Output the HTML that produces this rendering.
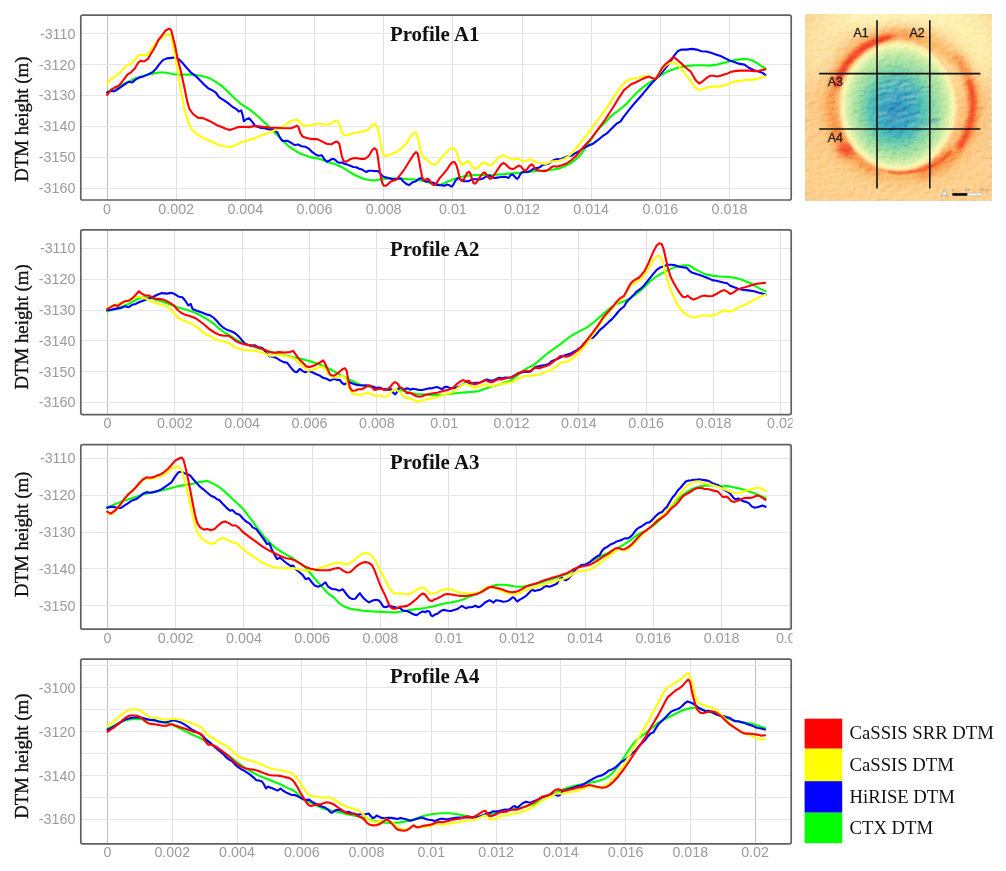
<!DOCTYPE html>
<html><head><meta charset="utf-8"><title>DTM profiles</title>
<style>html,body{margin:0;padding:0;background:#fff;}body{width:1006px;height:871px;overflow:hidden;font-family:"Liberation Sans",sans-serif;}svg{display:block;}</style></head>
<body>
<svg width="1006" height="871" viewBox="0 0 1006 871">
<defs><clipPath id="xc"><rect x="0" y="0" width="792.6" height="871"/></clipPath></defs>
<rect width="1006" height="871" fill="#ffffff"/>
<g opacity="0.999">
<g>
<clipPath id="c0"><rect x="80.8" y="15.1" width="710.4" height="184.9"/></clipPath>
<g stroke-width="1"><line x1="107.5" y1="15.1" x2="107.5" y2="200.0" stroke="#c2c2c2"/><line x1="176.5" y1="15.1" x2="176.5" y2="200.0" stroke="#e0e0e0"/><line x1="245.5" y1="15.1" x2="245.5" y2="200.0" stroke="#e0e0e0"/><line x1="314.5" y1="15.1" x2="314.5" y2="200.0" stroke="#e0e0e0"/><line x1="383.5" y1="15.1" x2="383.5" y2="200.0" stroke="#e0e0e0"/><line x1="452.5" y1="15.1" x2="452.5" y2="200.0" stroke="#e0e0e0"/><line x1="522.5" y1="15.1" x2="522.5" y2="200.0" stroke="#e0e0e0"/><line x1="591.5" y1="15.1" x2="591.5" y2="200.0" stroke="#e0e0e0"/><line x1="660.5" y1="15.1" x2="660.5" y2="200.0" stroke="#e0e0e0"/><line x1="729.5" y1="15.1" x2="729.5" y2="200.0" stroke="#e0e0e0"/><line x1="80.8" y1="33.5" x2="791.2" y2="33.5" stroke="#e6e6e6"/><line x1="80.8" y1="64.5" x2="791.2" y2="64.5" stroke="#e6e6e6"/><line x1="80.8" y1="95.5" x2="791.2" y2="95.5" stroke="#e6e6e6"/><line x1="80.8" y1="126.5" x2="791.2" y2="126.5" stroke="#e6e6e6"/><line x1="80.8" y1="157.5" x2="791.2" y2="157.5" stroke="#e6e6e6"/><line x1="80.8" y1="188.5" x2="791.2" y2="188.5" stroke="#e6e6e6"/></g>
<g clip-path="url(#c0)" fill="none" stroke-width="2.1" stroke-linejoin="round" stroke-linecap="round">
<path d="M107.2 92.5 L111.9 89.4 L117.9 86.6 L123.9 83.7 L129.8 81.3 L135.8 78.2 L141.7 76.6 L147.7 74.6 L153.7 73.4 L159.6 72.5 L164.4 72.5 L169.2 73.2 L174.0 74.2 L178.7 74.6 L185.9 74.6 L193.0 74.6 L200.2 75.8 L206.2 77.0 L210.9 78.9 L215.7 81.8 L220.5 84.9 L225.2 89.0 L230.0 93.7 L234.8 98.5 L239.6 102.8 L244.3 106.1 L249.1 109.2 L253.9 112.8 L258.6 117.1 L263.4 121.6 L268.2 125.9 L273.0 130.7 L277.7 135.5 L282.5 140.2 L287.3 145.0 L292.0 148.6 L296.8 151.7 L301.6 154.1 L306.4 155.8 L311.1 157.4 L315.9 158.1 L320.7 159.3 L325.4 161.0 L330.0 162.8 L331.2 163.1 L332.4 163.4 L333.6 163.7 L334.8 164.1 L336.0 164.5 L337.2 165.0 L338.4 165.5 L340.7 166.7 L344.3 168.7 L347.9 170.8 L351.5 173.0 L355.0 175.0 L358.6 176.8 L362.2 178.3 L365.8 179.4 L369.4 180.0 L372.9 180.4 L376.5 180.1 L380.1 179.5 L383.7 178.9 L387.3 178.6 L390.8 178.6 L394.4 178.6 L399.2 178.6 L404.0 178.9 L408.7 179.2 L413.5 179.4 L417.1 179.8 L420.7 180.4 L424.2 181.2 L427.8 182.2 L431.4 183.4 L435.0 184.2 L438.5 184.9 L440.0 184.8 L441.2 184.4 L442.4 184.0 L443.6 183.4 L444.8 182.9 L446.0 182.3 L447.2 181.8 L448.4 181.3 L449.6 180.8 L450.7 180.4 L454.3 178.9 L457.9 177.8 L461.5 176.8 L465.0 176.2 L468.6 175.6 L472.2 175.2 L475.8 175.0 L480.6 175.0 L485.3 175.0 L490.1 175.0 L494.9 174.8 L499.6 174.4 L504.4 174.1 L509.2 173.6 L514.0 173.2 L518.7 172.9 L523.5 172.4 L528.3 172.0 L533.0 171.4 L537.8 170.8 L542.6 170.6 L547.4 170.2 L550.0 169.9 L551.2 169.8 L552.4 169.7 L553.6 169.5 L554.8 169.3 L556.0 169.1 L557.2 168.9 L558.4 168.6 L559.6 168.4 L564.3 166.5 L569.1 164.1 L573.9 161.0 L578.6 156.9 L583.4 151.0 L588.2 143.8 L591.7 138.6 L595.3 133.1 L600.1 127.1 L604.9 122.8 L609.6 117.6 L614.4 113.3 L619.2 110.0 L624.0 106.1 L628.7 101.4 L633.5 96.1 L638.3 91.3 L643.0 87.3 L647.8 83.7 L652.6 80.6 L657.4 77.5 L662.1 74.6 L666.9 71.8 L671.7 69.9 L676.4 68.2 L681.2 67.0 L686.0 66.1 L690.8 65.6 L695.5 65.3 L702.7 65.3 L709.8 65.6 L717.0 64.6 L724.2 62.7 L731.3 60.8 L737.3 59.6 L742.0 59.1 L746.8 59.1 L751.6 60.3 L756.4 62.7 L761.1 65.8 L765.4 68.7" stroke="#00ff00"/>
<path d="M107.2 92.5 L110.7 90.9 L114.3 91.3 L117.9 89.0 L121.5 86.6 L125.0 84.2 L128.6 81.8 L132.2 82.5 L135.8 79.4 L139.4 77.5 L142.9 76.6 L147.7 74.6 L152.5 72.3 L156.1 68.7 L159.6 63.9 L163.2 59.9 L166.8 58.4 L171.6 57.9 L175.1 57.5 L178.7 59.1 L182.3 62.7 L185.9 67.0 L190.7 72.3 L195.4 75.8 L200.2 80.6 L205.0 85.4 L208.5 88.5 L212.1 90.1 L215.7 92.5 L219.3 97.3 L224.1 100.4 L228.8 103.7 L232.4 106.8 L236.0 108.8 L238.8 111.6 L241.2 110.4 L242.7 115.2 L243.9 121.2 L246.0 119.5 L249.1 118.3 L252.7 122.4 L255.1 125.9 L259.8 127.6 L264.6 128.3 L269.4 129.5 L274.2 129.5 L277.7 133.1 L280.1 137.9 L282.5 141.0 L287.3 140.7 L290.9 142.6 L294.4 145.0 L298.0 144.5 L301.6 146.2 L305.2 146.7 L308.7 148.6 L312.3 152.2 L315.9 154.6 L318.3 155.8 L321.9 155.3 L324.3 159.3 L327.1 161.7 L330.0 160.2 L331.2 159.5 L332.4 158.9 L333.6 159.0 L334.8 159.6 L336.0 160.5 L337.2 161.9 L338.4 162.4 L339.5 162.7 L341.9 162.5 L344.3 163.7 L347.3 164.6 L350.3 165.8 L353.3 167.0 L356.2 167.3 L359.2 168.7 L362.2 169.6 L364.6 171.1 L366.4 172.0 L368.8 170.8 L371.7 170.8 L375.3 171.1 L378.3 171.1 L380.1 173.2 L382.5 176.2 L385.5 177.4 L388.4 178.0 L390.8 178.6 L393.8 179.2 L396.8 178.9 L399.2 178.2 L401.0 178.6 L402.8 181.0 L405.1 182.8 L407.5 184.6 L409.3 185.1 L411.1 183.4 L412.9 182.2 L415.3 181.6 L417.7 179.8 L420.1 178.2 L421.8 178.6 L423.6 180.4 L426.0 181.6 L428.4 181.3 L430.8 182.2 L433.8 182.8 L436.2 184.6 L439.1 185.1 L440.0 185.2 L441.2 185.3 L442.4 185.4 L443.6 185.6 L444.8 185.6 L446.0 185.0 L447.2 184.6 L448.4 184.9 L449.6 185.4 L450.7 186.3 L451.9 186.6 L453.4 184.6 L454.9 181.6 L456.7 179.2 L458.5 178.2 L460.3 179.2 L462.1 180.6 L463.9 181.3 L466.2 181.3 L468.6 181.1 L471.0 179.8 L473.4 179.2 L475.8 179.2 L478.2 179.4 L480.6 179.2 L482.9 178.6 L485.3 177.0 L487.7 175.6 L490.1 175.8 L492.5 177.4 L494.9 178.0 L497.3 177.6 L499.6 177.2 L502.0 177.0 L505.0 176.8 L507.4 177.4 L508.6 178.0 L510.4 175.4 L512.2 174.4 L514.0 175.8 L515.7 177.8 L517.3 178.9 L518.7 177.4 L520.2 174.4 L521.7 172.6 L523.5 171.8 L525.9 172.0 L528.3 171.8 L530.7 170.6 L533.0 169.0 L535.4 168.2 L537.8 167.9 L540.2 167.0 L542.0 165.5 L543.8 164.6 L546.2 164.3 L548.5 163.7 L550.0 162.6 L551.2 161.7 L552.4 160.9 L553.6 160.2 L554.8 159.8 L556.0 159.4 L557.2 159.1 L558.4 159.2 L559.6 159.3 L560.7 159.3 L564.3 157.7 L567.9 156.2 L571.5 155.8 L575.0 153.4 L578.6 151.5 L583.4 148.1 L588.2 145.7 L592.9 143.8 L597.7 140.2 L602.5 136.2 L607.3 133.1 L612.0 128.3 L616.8 123.5 L620.4 121.6 L624.0 116.4 L628.7 110.4 L633.5 104.5 L638.3 99.0 L643.0 93.7 L647.8 87.8 L652.6 82.3 L657.4 77.5 L662.1 72.3 L666.9 66.3 L670.5 61.5 L674.1 55.6 L677.6 51.3 L681.2 49.6 L686.0 49.6 L691.9 48.9 L696.7 49.6 L701.5 51.3 L706.3 51.5 L711.0 52.7 L715.8 54.4 L720.6 56.0 L725.3 58.4 L730.1 60.8 L734.9 62.2 L739.7 63.9 L744.4 64.6 L749.2 68.0 L754.0 70.3 L758.7 71.5 L762.3 72.7 L765.4 75.1" stroke="#0000ff"/>
<path d="M107.2 83.5 L110.7 79.4 L114.3 77.0 L119.1 73.4 L123.9 68.7 L127.4 65.1 L131.0 63.9 L134.6 60.3 L138.2 55.6 L141.7 54.4 L145.3 55.6 L148.9 53.2 L152.5 47.2 L157.3 41.2 L162.0 37.7 L166.8 34.6 L169.2 34.1 L171.1 36.5 L174.0 50.8 L177.5 69.9 L181.1 91.3 L184.7 110.4 L188.3 122.4 L191.8 129.5 L195.4 133.1 L200.2 136.2 L205.0 138.6 L209.7 140.7 L214.5 143.1 L219.3 145.0 L224.1 146.2 L230.0 146.9 L234.8 145.5 L240.8 142.6 L247.9 140.2 L255.1 137.9 L262.2 135.0 L269.4 132.4 L276.5 129.5 L281.3 127.1 L286.1 124.3 L290.9 121.2 L295.6 119.5 L299.2 121.2 L302.8 125.2 L307.6 125.9 L312.3 124.7 L317.1 123.5 L321.9 124.0 L326.6 124.7 L330.0 123.9 L331.2 123.6 L332.4 122.6 L333.6 121.7 L334.8 120.9 L336.0 120.8 L337.2 121.3 L338.4 122.3 L340.1 126.7 L341.9 132.1 L343.7 134.8 L346.1 135.6 L349.1 134.5 L352.7 133.3 L356.2 132.7 L361.0 131.8 L365.8 130.9 L368.8 129.1 L371.2 126.1 L373.5 124.3 L375.3 124.1 L377.1 126.7 L378.9 133.9 L380.7 143.4 L382.5 151.7 L384.3 155.7 L386.7 155.9 L389.6 154.7 L393.2 153.5 L396.2 152.3 L399.2 150.0 L402.8 147.0 L406.3 143.4 L409.3 138.6 L412.3 134.5 L414.7 132.4 L416.5 133.9 L418.3 139.8 L420.1 148.2 L421.8 154.7 L423.6 157.7 L426.0 158.9 L428.4 161.1 L430.8 163.4 L433.2 164.6 L435.6 164.3 L438.0 161.9 L440.0 159.4 L441.2 158.1 L442.4 156.7 L443.6 155.4 L444.8 154.1 L446.0 152.8 L447.2 151.6 L448.4 150.5 L449.6 149.5 L451.3 148.2 L453.7 148.2 L456.1 151.2 L457.9 155.9 L459.7 161.3 L461.5 164.3 L463.3 164.6 L465.6 162.5 L468.0 161.3 L469.8 162.5 L471.6 165.5 L473.4 167.9 L475.2 168.7 L477.0 168.2 L479.4 166.1 L481.7 163.7 L484.1 162.5 L486.5 163.4 L488.9 165.1 L490.7 165.5 L493.1 163.7 L495.5 160.7 L497.9 158.3 L500.2 156.3 L502.6 155.3 L505.0 155.9 L508.0 157.5 L511.0 158.9 L513.4 159.5 L515.7 158.9 L518.1 158.7 L520.5 159.9 L522.9 161.1 L525.3 161.3 L527.7 160.1 L530.1 159.3 L532.4 160.1 L534.8 161.9 L537.2 162.5 L540.2 162.7 L543.2 163.7 L545.6 163.9 L548.0 163.1 L550.0 162.1 L551.2 161.6 L552.4 161.4 L553.6 161.2 L554.8 161.2 L556.0 161.1 L557.2 161.0 L558.4 160.8 L559.6 160.5 L564.3 158.9 L569.1 155.8 L573.9 151.0 L578.6 145.0 L583.4 139.1 L588.2 133.1 L592.9 126.7 L597.7 120.0 L602.5 113.3 L607.3 106.8 L612.0 99.7 L616.8 92.5 L621.6 85.9 L626.3 81.3 L631.1 78.9 L635.9 78.2 L640.7 77.0 L645.4 76.3 L649.0 76.6 L652.6 78.2 L656.2 78.2 L659.3 73.4 L662.6 68.7 L666.2 65.1 L670.5 62.7 L674.1 62.2 L677.6 65.1 L681.2 68.7 L684.8 73.4 L688.4 78.2 L691.9 83.0 L695.5 87.8 L699.1 90.1 L703.9 88.5 L708.6 87.0 L713.4 86.6 L718.2 86.6 L723.0 85.6 L727.7 84.2 L732.5 82.3 L737.3 81.1 L742.0 80.6 L746.8 79.9 L751.6 79.9 L756.4 78.9 L761.1 77.7 L765.4 76.6" stroke="#ffff00"/>
<path d="M107.2 94.9 L110.7 90.1 L114.3 87.8 L119.1 85.4 L123.9 79.4 L127.4 74.6 L131.0 72.3 L134.6 68.7 L138.2 62.7 L140.6 60.8 L144.1 61.5 L147.7 59.1 L151.3 53.2 L154.9 47.2 L158.4 40.0 L162.0 35.3 L165.6 30.5 L169.2 28.6 L171.1 29.8 L172.8 36.5 L175.1 46.0 L177.5 57.9 L181.1 72.3 L184.7 89.0 L187.1 100.9 L189.5 109.2 L193.0 114.0 L197.8 117.6 L202.6 118.1 L207.4 120.0 L212.1 122.4 L216.9 125.2 L221.7 127.1 L226.4 129.0 L230.0 130.0 L233.6 128.8 L238.4 127.1 L243.1 126.7 L249.1 127.1 L255.1 125.9 L262.2 126.7 L269.4 127.6 L276.5 127.8 L283.7 128.3 L290.9 128.3 L294.4 127.1 L296.8 125.5 L298.5 127.1 L300.4 133.1 L302.8 136.7 L307.6 138.3 L312.3 139.1 L317.1 139.1 L321.9 141.4 L326.6 143.8 L330.0 144.2 L331.2 144.3 L332.4 143.7 L333.6 143.0 L334.8 142.1 L336.0 141.7 L337.2 141.5 L338.4 142.7 L339.3 144.0 L340.7 150.6 L341.9 156.5 L343.4 160.7 L345.5 161.9 L347.9 160.7 L350.9 158.9 L353.9 158.1 L357.4 158.3 L361.0 158.9 L364.6 158.9 L367.6 157.1 L370.0 154.1 L372.3 150.0 L374.7 148.2 L376.5 150.0 L377.7 155.9 L379.1 166.1 L380.7 176.2 L382.2 182.8 L383.9 185.7 L386.1 185.7 L388.4 183.7 L390.8 181.6 L393.8 180.6 L396.2 179.8 L398.6 176.8 L401.6 173.2 L404.6 169.0 L407.5 164.3 L410.5 159.5 L413.5 154.7 L415.9 152.1 L417.7 153.5 L419.2 161.3 L420.7 169.6 L422.1 176.8 L423.6 180.4 L425.4 179.8 L427.8 178.6 L429.6 180.4 L431.4 183.4 L433.8 185.1 L435.6 184.6 L437.4 181.6 L439.7 178.0 L440.0 177.7 L441.2 176.4 L442.4 175.1 L443.6 173.7 L444.8 172.2 L446.0 170.7 L447.2 169.1 L448.4 167.3 L449.6 165.4 L451.9 162.5 L454.3 161.9 L456.1 164.3 L457.7 169.6 L459.1 175.6 L460.5 179.8 L462.1 181.0 L463.9 179.2 L465.6 175.6 L467.4 172.6 L469.2 171.8 L470.8 174.4 L472.0 179.2 L473.4 182.8 L474.8 183.7 L476.4 182.5 L478.2 179.8 L480.6 176.2 L482.9 173.2 L484.7 172.4 L486.5 174.4 L488.3 177.4 L490.1 178.9 L491.9 178.0 L493.7 175.6 L496.1 172.0 L498.4 168.4 L500.8 164.9 L503.2 163.1 L505.0 163.7 L507.4 166.1 L509.8 168.2 L512.2 169.0 L514.6 168.4 L516.9 166.7 L519.3 165.5 L521.1 166.7 L522.9 169.0 L524.9 170.8 L526.8 169.6 L528.9 166.7 L530.7 164.6 L532.4 164.6 L534.0 167.0 L535.4 169.4 L537.8 170.2 L540.8 170.8 L543.8 171.1 L546.8 170.6 L549.1 169.0 L550.0 168.4 L551.2 167.4 L552.4 166.8 L553.6 166.3 L554.8 166.3 L556.0 166.5 L557.2 166.6 L558.4 166.3 L559.6 165.9 L561.9 165.3 L566.7 163.4 L571.5 160.0 L576.2 155.8 L581.0 149.8 L585.8 144.5 L590.6 139.1 L595.3 133.1 L600.1 126.7 L604.9 120.0 L609.6 112.8 L614.4 105.2 L619.2 97.3 L624.0 90.1 L627.5 87.3 L631.1 84.2 L635.9 82.3 L640.7 79.9 L645.4 77.7 L649.0 76.6 L652.6 78.2 L655.7 78.9 L658.5 74.6 L661.7 68.7 L665.0 64.6 L668.6 61.5 L671.7 58.4 L674.1 57.5 L676.4 59.1 L680.0 62.2 L683.6 65.6 L687.2 68.7 L690.8 71.8 L693.1 75.8 L696.0 80.6 L699.1 83.5 L702.7 81.3 L706.3 78.2 L709.8 75.8 L713.4 75.8 L717.0 76.6 L720.6 75.8 L724.2 74.6 L727.7 73.4 L731.3 71.8 L734.9 71.1 L739.7 70.6 L744.4 70.6 L749.2 70.6 L754.0 71.1 L757.6 71.1 L761.1 70.3 L765.4 69.4" stroke="#ff0000"/>
</g>
<rect x="80.8" y="15.1" width="710.4" height="184.9" rx="1.8" fill="none" stroke="#616161" stroke-width="1.7"/>
<g clip-path="url(#xc)" font-family="'Liberation Sans', sans-serif" font-size="14.3" fill="#9b9b9b"><text x="107.0" y="213.6" text-anchor="middle">0</text><text x="176.2" y="213.6" text-anchor="middle">0.002</text><text x="245.3" y="213.6" text-anchor="middle">0.004</text><text x="314.5" y="213.6" text-anchor="middle">0.006</text><text x="383.7" y="213.6" text-anchor="middle">0.008</text><text x="452.9" y="213.6" text-anchor="middle">0.01</text><text x="522.0" y="213.6" text-anchor="middle">0.012</text><text x="591.2" y="213.6" text-anchor="middle">0.014</text><text x="660.4" y="213.6" text-anchor="middle">0.016</text><text x="729.5" y="213.6" text-anchor="middle">0.018</text></g>
<g font-family="'Liberation Sans', sans-serif" font-size="14.3" fill="#9b9b9b"><text x="75.4" y="38.8" text-anchor="end">-3110</text><text x="75.4" y="69.6" text-anchor="end">-3120</text><text x="75.4" y="100.4" text-anchor="end">-3130</text><text x="75.4" y="131.3" text-anchor="end">-3140</text><text x="75.4" y="162.1" text-anchor="end">-3150</text><text x="75.4" y="192.9" text-anchor="end">-3160</text></g>
<text x="389.9" y="41.3" font-family="'Liberation Serif', serif" font-weight="bold" font-size="20.9" fill="#111">Profile A1</text>
<text transform="translate(27.7 119.2) rotate(-90)" text-anchor="middle" font-family="'Liberation Serif', serif" font-size="18.8" fill="#111" stroke="#111" stroke-width="0.35">DTM height (m)</text>
</g>
<g>
<clipPath id="c1"><rect x="80.8" y="229.9" width="710.4" height="184.7"/></clipPath>
<g stroke-width="1"><line x1="107.5" y1="229.9" x2="107.5" y2="414.6" stroke="#c2c2c2"/><line x1="174.5" y1="229.9" x2="174.5" y2="414.6" stroke="#e0e0e0"/><line x1="242.5" y1="229.9" x2="242.5" y2="414.6" stroke="#e0e0e0"/><line x1="309.5" y1="229.9" x2="309.5" y2="414.6" stroke="#e0e0e0"/><line x1="376.5" y1="229.9" x2="376.5" y2="414.6" stroke="#e0e0e0"/><line x1="444.5" y1="229.9" x2="444.5" y2="414.6" stroke="#e0e0e0"/><line x1="511.5" y1="229.9" x2="511.5" y2="414.6" stroke="#e0e0e0"/><line x1="578.5" y1="229.9" x2="578.5" y2="414.6" stroke="#e0e0e0"/><line x1="646.5" y1="229.9" x2="646.5" y2="414.6" stroke="#e0e0e0"/><line x1="713.5" y1="229.9" x2="713.5" y2="414.6" stroke="#e0e0e0"/><line x1="780.5" y1="229.9" x2="780.5" y2="414.6" stroke="#e0e0e0"/><line x1="80.8" y1="248.5" x2="791.2" y2="248.5" stroke="#e6e6e6"/><line x1="80.8" y1="279.5" x2="791.2" y2="279.5" stroke="#e6e6e6"/><line x1="80.8" y1="310.5" x2="791.2" y2="310.5" stroke="#e6e6e6"/><line x1="80.8" y1="340.5" x2="791.2" y2="340.5" stroke="#e6e6e6"/><line x1="80.8" y1="371.5" x2="791.2" y2="371.5" stroke="#e6e6e6"/><line x1="80.8" y1="402.5" x2="791.2" y2="402.5" stroke="#e6e6e6"/></g>
<g clip-path="url(#c1)" fill="none" stroke-width="2.1" stroke-linejoin="round" stroke-linecap="round">
<path d="M107.2 311.5 L114.3 309.1 L121.5 306.7 L128.6 303.9 L135.8 300.0 L141.7 297.2 L147.7 297.2 L153.7 298.9 L159.6 300.8 L165.6 302.7 L171.6 305.1 L177.5 307.2 L183.5 309.1 L189.5 310.8 L195.4 312.7 L201.4 315.8 L207.4 319.4 L213.3 323.4 L219.3 328.7 L225.2 333.0 L231.2 336.5 L237.2 340.1 L243.1 343.2 L250.3 345.6 L257.5 348.0 L264.6 350.1 L271.8 352.1 L278.9 354.0 L286.1 355.6 L293.2 357.3 L300.4 358.7 L307.6 360.4 L314.7 362.8 L321.9 365.2 L329.0 368.8 L330.0 369.3 L331.2 369.8 L332.4 370.4 L333.6 371.1 L334.8 371.7 L336.0 372.4 L337.2 373.1 L338.4 373.9 L339.6 374.5 L341.9 375.7 L345.9 377.6 L349.9 379.6 L353.9 381.7 L357.8 383.6 L361.8 385.2 L365.8 386.0 L369.8 386.8 L374.5 387.6 L379.3 388.4 L384.1 389.2 L388.8 389.5 L393.6 389.7 L398.4 390.0 L403.2 390.8 L407.9 391.9 L412.7 393.2 L417.5 394.0 L422.2 394.4 L427.0 394.8 L431.8 395.1 L436.6 395.1 L441.3 394.8 L446.1 394.3 L450.9 393.6 L455.6 393.2 L460.4 392.7 L465.2 392.4 L470.0 392.0 L474.7 391.6 L478.7 391.1 L480.0 390.6 L481.2 390.2 L482.4 389.8 L483.6 389.2 L484.8 388.8 L486.0 388.4 L487.2 388.0 L488.4 387.7 L489.6 387.3 L491.9 386.5 L495.9 385.4 L499.9 384.2 L503.9 382.7 L507.8 381.5 L511.8 379.9 L515.8 376.7 L519.8 373.5 L523.7 370.3 L527.7 367.9 L531.7 366.0 L535.7 363.5 L539.6 360.0 L543.6 356.5 L547.6 353.3 L551.6 350.4 L555.5 347.6 L559.5 344.9 L563.5 341.7 L567.5 338.5 L571.5 335.6 L575.4 333.3 L579.4 331.4 L583.4 329.4 L587.4 327.1 L591.3 324.2 L595.3 321.0 L599.3 317.4 L600.0 316.7 L601.2 315.7 L602.4 314.7 L603.6 313.6 L604.8 312.6 L606.0 311.6 L607.2 310.5 L608.4 309.5 L609.6 308.6 L610.8 307.6 L612.0 306.8 L613.2 306.0 L614.4 305.3 L615.6 304.6 L616.8 304.1 L618.0 303.6 L619.2 303.1 L620.4 302.6 L621.6 302.1 L622.8 301.7 L624.0 301.2 L625.2 300.7 L626.4 300.1 L627.6 299.5 L628.8 298.9 L630.0 298.2 L631.2 297.5 L632.4 296.7 L633.6 295.9 L634.8 295.1 L636.0 294.2 L637.2 293.3 L638.4 292.3 L639.6 291.4 L644.7 286.7 L649.7 281.7 L654.7 277.7 L659.6 274.7 L664.6 271.8 L669.6 269.4 L674.6 267.4 L679.5 266.2 L684.5 265.4 L688.5 265.4 L691.5 266.8 L695.4 269.4 L699.4 271.4 L703.4 273.4 L708.3 274.9 L713.3 275.9 L719.3 276.5 L725.2 276.7 L731.2 277.3 L737.2 278.3 L743.1 280.3 L749.1 282.7 L754.1 285.3 L759.0 288.1 L763.0 290.1 L765.6 291.2" stroke="#00ff00"/>
<path d="M107.2 310.3 L111.9 309.6 L116.7 308.6 L121.5 307.9 L125.0 306.3 L128.6 307.2 L132.2 304.8 L135.8 303.9 L139.4 302.0 L142.9 300.8 L147.7 299.1 L152.5 297.2 L157.3 294.8 L162.0 293.1 L166.8 293.6 L171.6 292.9 L175.1 294.3 L178.7 296.7 L182.3 297.2 L185.4 300.8 L188.3 305.5 L190.7 303.9 L192.6 309.1 L195.4 310.3 L199.0 311.5 L202.6 312.7 L206.2 314.4 L209.7 315.1 L213.3 317.5 L216.9 321.0 L220.5 325.3 L224.1 328.2 L227.6 330.1 L231.2 331.3 L234.8 333.0 L238.4 336.1 L241.9 340.1 L245.5 344.2 L250.3 345.6 L255.1 345.4 L258.6 347.3 L262.2 347.8 L265.8 352.1 L269.4 356.3 L273.0 356.8 L276.5 358.0 L280.1 360.4 L283.7 362.1 L287.3 362.8 L290.9 367.6 L294.4 371.6 L296.8 372.3 L299.9 368.8 L302.8 371.1 L305.2 372.3 L308.7 370.7 L312.3 372.3 L315.9 374.0 L319.5 375.4 L323.1 377.8 L326.6 378.8 L330.0 380.6 L331.2 380.1 L332.4 379.6 L333.6 379.1 L334.8 379.1 L336.0 379.5 L337.2 379.9 L338.4 379.9 L339.6 379.7 L341.9 382.8 L344.3 384.4 L345.9 383.6 L348.3 381.2 L350.7 382.8 L353.9 383.9 L357.0 384.9 L360.2 385.2 L363.4 385.5 L366.6 385.2 L369.8 386.0 L372.9 386.5 L376.1 388.1 L379.3 387.6 L382.5 388.7 L385.7 389.2 L388.8 389.7 L391.2 389.2 L392.8 392.4 L395.2 394.4 L396.8 392.4 L398.4 388.4 L400.8 387.6 L403.2 389.2 L405.5 388.7 L407.9 388.4 L410.3 389.7 L412.7 388.7 L415.9 389.2 L419.1 390.0 L422.2 390.0 L425.4 389.2 L428.6 388.4 L432.6 388.1 L436.6 387.1 L439.7 388.1 L442.1 389.2 L444.5 387.1 L446.9 386.8 L450.1 388.1 L453.3 388.1 L456.4 387.6 L459.6 386.5 L462.8 384.4 L466.0 382.8 L469.2 383.6 L472.3 383.3 L475.5 382.8 L478.7 382.8 L480.0 382.5 L481.2 382.1 L482.4 381.6 L483.6 381.0 L484.8 380.4 L486.0 379.8 L487.2 379.6 L488.4 379.9 L489.6 380.3 L492.7 380.7 L495.9 379.1 L499.1 377.8 L502.3 378.3 L505.4 377.5 L508.6 377.8 L511.8 377.2 L515.0 375.1 L518.2 373.5 L521.4 372.4 L524.5 371.9 L527.7 371.9 L530.9 371.4 L533.3 368.7 L535.7 366.7 L538.8 366.3 L542.0 365.5 L545.2 365.1 L548.4 364.0 L551.6 361.3 L554.8 360.0 L557.9 358.7 L561.1 357.1 L564.3 355.5 L567.5 354.4 L570.7 353.6 L573.8 351.7 L577.0 350.1 L580.2 347.6 L583.4 344.1 L586.6 340.9 L589.7 338.5 L592.9 337.7 L596.1 334.5 L599.3 330.6 L600.0 329.9 L601.2 328.9 L602.4 327.9 L603.6 326.9 L604.8 325.8 L606.0 324.6 L607.2 323.4 L608.4 322.2 L609.6 321.1 L610.8 320.1 L612.0 319.1 L613.2 317.8 L614.4 316.4 L615.6 315.0 L616.8 313.5 L618.0 312.0 L619.2 310.6 L620.4 309.4 L621.6 308.3 L622.8 307.5 L624.0 306.6 L625.2 304.5 L626.4 302.2 L627.6 301.0 L628.8 299.8 L630.0 298.6 L631.2 297.4 L632.4 296.1 L633.6 294.9 L634.8 293.6 L636.0 292.2 L637.2 291.1 L638.4 290.3 L639.6 289.4 L640.8 288.7 L644.7 284.7 L648.7 279.7 L652.7 274.7 L656.7 269.8 L659.6 267.8 L663.6 266.2 L667.6 264.8 L671.6 264.8 L675.5 265.4 L679.5 266.8 L683.5 267.4 L686.5 267.8 L689.5 270.8 L692.4 272.8 L696.4 274.1 L700.4 275.3 L704.4 276.7 L708.3 278.3 L712.3 280.1 L716.3 280.7 L720.3 281.7 L724.3 282.7 L727.2 283.3 L730.2 285.7 L734.2 287.3 L738.2 288.7 L742.1 289.7 L746.1 290.1 L750.1 290.6 L754.1 291.2 L758.1 292.6 L762.0 293.6 L765.6 294.6" stroke="#0000ff"/>
<path d="M107.2 308.4 L111.9 306.3 L116.7 304.3 L121.5 303.1 L126.2 301.5 L131.0 299.1 L135.8 297.2 L140.6 296.7 L145.3 298.4 L150.1 300.8 L154.9 302.7 L159.6 304.3 L164.4 305.5 L169.2 307.9 L174.0 312.7 L178.7 318.2 L183.5 320.6 L188.3 322.2 L193.0 324.6 L197.8 327.7 L202.6 331.8 L207.4 335.4 L210.9 336.1 L214.5 338.9 L219.3 340.6 L224.1 341.8 L228.8 343.2 L232.4 345.4 L236.0 348.0 L240.8 349.2 L245.5 350.1 L250.3 350.4 L255.1 350.9 L259.8 352.1 L264.6 353.2 L269.4 355.6 L274.2 355.6 L278.9 354.4 L283.7 355.6 L288.5 356.8 L293.2 358.0 L298.0 361.6 L302.8 366.4 L307.6 370.7 L312.3 369.9 L317.1 368.0 L321.9 366.4 L325.4 369.5 L329.0 374.7 L330.0 375.6 L331.2 376.5 L332.4 377.4 L333.6 377.5 L334.8 377.5 L336.0 377.5 L337.2 377.2 L338.4 376.9 L339.6 376.5 L342.7 375.7 L345.1 378.1 L347.5 383.6 L349.9 390.0 L352.3 393.2 L355.4 394.4 L358.6 394.8 L361.8 394.4 L365.0 393.5 L368.2 392.8 L371.4 394.0 L374.5 395.5 L377.7 396.0 L380.9 395.5 L384.1 396.7 L387.3 396.3 L389.6 394.0 L392.0 390.8 L394.4 389.2 L396.8 390.0 L400.0 392.4 L402.4 394.8 L404.8 397.9 L407.9 397.9 L411.1 398.7 L414.3 400.3 L417.5 401.4 L420.7 401.1 L423.8 400.3 L427.0 399.2 L431.8 398.3 L436.6 397.5 L441.3 395.5 L445.3 394.0 L449.3 393.2 L453.3 391.6 L456.4 389.2 L459.6 386.8 L462.8 384.4 L466.0 383.6 L469.2 385.2 L472.3 387.1 L475.5 387.6 L478.7 386.5 L480.0 386.0 L481.2 385.5 L482.4 385.1 L483.6 384.6 L484.8 384.4 L486.0 384.5 L487.2 384.9 L488.4 385.6 L489.6 386.2 L492.7 386.2 L495.9 385.1 L499.1 384.2 L502.3 383.8 L505.4 383.4 L508.6 382.6 L511.8 382.2 L515.0 380.7 L518.2 378.7 L521.4 377.2 L524.5 375.9 L527.7 375.6 L530.9 375.9 L534.1 375.1 L537.3 374.6 L540.4 374.3 L543.6 372.7 L546.8 371.4 L550.0 370.3 L553.2 368.7 L556.3 366.3 L559.5 363.5 L562.7 361.9 L565.9 361.9 L569.1 360.8 L572.2 358.7 L575.4 356.0 L578.6 353.3 L581.8 349.6 L585.0 345.7 L588.2 340.9 L591.3 336.9 L594.5 332.6 L597.7 327.9 L600.0 324.0 L601.2 322.2 L602.4 320.4 L603.6 318.7 L604.8 317.1 L606.0 315.6 L607.2 314.1 L608.4 312.7 L609.6 311.3 L610.8 309.9 L612.0 308.5 L613.2 307.1 L614.4 305.7 L615.6 304.3 L616.8 303.0 L618.0 301.8 L619.2 300.5 L620.4 299.5 L621.6 298.6 L622.8 297.7 L624.0 296.8 L625.2 294.7 L626.4 292.6 L627.6 290.4 L629.8 286.7 L632.8 283.7 L635.8 282.1 L638.8 280.7 L641.7 278.1 L644.7 274.7 L647.7 269.8 L650.7 264.8 L653.7 259.8 L656.7 256.3 L659.0 255.5 L661.2 257.8 L663.2 263.8 L665.2 271.8 L667.6 280.7 L670.6 289.7 L673.6 296.6 L676.5 302.6 L679.5 307.5 L683.5 312.5 L687.5 315.1 L691.5 317.1 L694.4 317.5 L698.4 316.5 L702.4 315.5 L706.4 315.5 L710.3 315.9 L714.3 315.1 L718.3 313.1 L722.3 310.9 L725.2 310.1 L728.2 311.5 L731.2 311.5 L735.2 309.5 L739.2 307.1 L743.1 305.6 L747.1 303.6 L751.1 301.2 L755.1 299.2 L759.0 297.2 L763.0 295.6 L765.6 294.8" stroke="#ffff00"/>
<path d="M107.2 309.1 L110.7 307.2 L114.3 305.1 L117.9 306.0 L121.5 303.1 L125.0 301.2 L128.6 300.8 L132.2 298.4 L135.8 294.8 L138.9 291.2 L141.7 293.6 L145.3 295.5 L148.9 295.5 L152.5 297.7 L156.1 298.9 L159.6 299.1 L163.2 299.6 L166.8 301.2 L170.4 303.1 L174.0 305.5 L177.5 309.8 L181.1 312.7 L185.9 315.1 L190.7 316.3 L195.4 318.2 L200.2 321.5 L205.0 325.3 L209.7 329.4 L214.5 332.5 L219.3 334.9 L224.1 335.8 L228.8 335.8 L232.4 338.2 L236.0 341.3 L240.8 343.2 L245.5 344.4 L250.3 345.4 L255.1 346.6 L259.8 348.0 L264.6 349.7 L269.4 352.1 L274.2 352.8 L278.9 352.1 L284.9 352.5 L289.7 352.1 L293.2 350.9 L295.6 354.4 L299.2 359.2 L302.8 362.8 L306.4 366.4 L309.9 367.1 L314.7 365.2 L319.5 362.8 L323.1 360.4 L325.4 364.0 L327.8 369.9 L330.0 374.3 L331.2 375.0 L332.4 375.4 L333.6 375.7 L334.8 375.1 L336.0 374.5 L337.2 373.6 L338.4 372.7 L339.6 371.7 L342.7 369.0 L345.1 368.2 L346.7 370.9 L348.3 380.4 L349.9 387.6 L352.3 390.8 L355.4 390.5 L358.6 389.2 L361.8 389.2 L365.0 387.6 L367.4 386.0 L369.8 385.2 L372.1 387.6 L374.5 390.0 L377.7 389.2 L380.9 388.4 L384.1 390.0 L387.3 390.0 L390.4 386.8 L392.8 383.6 L395.2 382.0 L397.6 383.6 L400.0 387.6 L402.4 388.4 L404.8 390.8 L407.1 393.2 L409.5 392.8 L412.7 394.0 L415.9 396.0 L419.1 396.8 L422.2 396.3 L425.4 394.8 L429.4 394.0 L433.4 393.2 L437.4 392.7 L441.3 391.6 L445.3 390.5 L449.3 389.5 L453.3 387.6 L456.4 384.4 L459.6 382.0 L462.8 380.1 L466.0 381.2 L469.2 380.9 L471.6 383.3 L474.7 384.4 L477.9 383.6 L480.0 382.6 L481.2 382.0 L482.4 381.3 L483.6 380.6 L484.8 380.3 L486.0 380.4 L487.2 380.9 L488.4 381.6 L489.6 382.0 L491.9 382.2 L495.1 380.7 L498.3 379.1 L501.5 379.4 L504.7 378.7 L507.8 377.8 L511.0 377.5 L514.2 375.9 L517.4 373.8 L520.6 372.2 L523.7 371.1 L526.9 371.1 L530.1 370.8 L532.5 369.5 L534.9 367.6 L537.3 367.9 L539.6 368.3 L542.8 367.1 L546.0 366.0 L549.2 364.8 L552.4 362.4 L555.5 360.0 L557.9 358.1 L560.3 356.0 L562.7 356.0 L565.9 356.8 L569.1 356.0 L572.2 354.4 L575.4 352.0 L578.6 349.6 L581.8 346.5 L585.0 342.5 L588.2 338.5 L591.3 334.5 L594.5 330.1 L597.7 325.8 L600.0 322.3 L601.2 320.5 L602.4 318.7 L603.6 316.9 L604.8 315.5 L606.0 314.2 L607.2 312.8 L608.4 311.5 L609.6 310.2 L610.8 308.8 L612.0 307.5 L613.2 306.1 L614.4 304.7 L615.6 303.2 L616.8 301.8 L618.0 300.5 L619.2 299.2 L620.4 298.1 L621.6 297.4 L622.8 296.7 L624.0 295.8 L625.2 293.7 L626.4 291.5 L629.8 284.7 L632.8 281.1 L635.8 279.3 L638.8 277.7 L641.7 274.7 L644.7 270.8 L647.7 264.8 L650.7 257.8 L653.7 250.9 L656.7 245.5 L659.2 243.3 L661.6 243.9 L663.6 248.9 L665.6 257.8 L667.6 266.8 L670.6 276.7 L673.6 282.7 L676.5 287.7 L679.5 292.6 L682.5 296.6 L685.5 297.2 L687.5 295.6 L690.5 298.0 L693.4 299.6 L696.4 298.6 L700.4 296.6 L704.4 295.6 L708.3 296.2 L712.3 296.0 L716.3 294.0 L720.3 291.6 L724.3 290.1 L727.2 291.6 L730.2 294.0 L733.2 292.6 L737.2 289.7 L741.2 288.3 L745.1 287.3 L749.1 286.1 L753.1 284.7 L757.1 283.7 L761.0 283.3 L765.0 282.9" stroke="#ff0000"/>
</g>
<rect x="80.8" y="229.9" width="710.4" height="184.7" rx="1.8" fill="none" stroke="#616161" stroke-width="1.7"/>
<g clip-path="url(#xc)" font-family="'Liberation Sans', sans-serif" font-size="14.3" fill="#9b9b9b"><text x="107.5" y="428.2" text-anchor="middle">0</text><text x="174.8" y="428.2" text-anchor="middle">0.002</text><text x="242.2" y="428.2" text-anchor="middle">0.004</text><text x="309.5" y="428.2" text-anchor="middle">0.006</text><text x="376.9" y="428.2" text-anchor="middle">0.008</text><text x="444.2" y="428.2" text-anchor="middle">0.01</text><text x="511.5" y="428.2" text-anchor="middle">0.012</text><text x="578.9" y="428.2" text-anchor="middle">0.014</text><text x="646.2" y="428.2" text-anchor="middle">0.016</text><text x="713.6" y="428.2" text-anchor="middle">0.018</text><text x="780.9" y="428.2" text-anchor="middle">0.02</text></g>
<g font-family="'Liberation Sans', sans-serif" font-size="14.3" fill="#9b9b9b"><text x="75.4" y="253.4" text-anchor="end">-3110</text><text x="75.4" y="284.2" text-anchor="end">-3120</text><text x="75.4" y="315.0" text-anchor="end">-3130</text><text x="75.4" y="345.8" text-anchor="end">-3140</text><text x="75.4" y="376.6" text-anchor="end">-3150</text><text x="75.4" y="407.4" text-anchor="end">-3160</text></g>
<text x="389.9" y="256.3" font-family="'Liberation Serif', serif" font-weight="bold" font-size="20.9" fill="#111">Profile A2</text>
<text transform="translate(27.7 326.9) rotate(-90)" text-anchor="middle" font-family="'Liberation Serif', serif" font-size="18.8" fill="#111" stroke="#111" stroke-width="0.35">DTM height (m)</text>
</g>
<g>
<clipPath id="c2"><rect x="80.8" y="444.6" width="710.4" height="184.6"/></clipPath>
<g stroke-width="1"><line x1="107.5" y1="444.6" x2="107.5" y2="629.2" stroke="#c2c2c2"/><line x1="175.5" y1="444.6" x2="175.5" y2="629.2" stroke="#e0e0e0"/><line x1="243.5" y1="444.6" x2="243.5" y2="629.2" stroke="#e0e0e0"/><line x1="312.5" y1="444.6" x2="312.5" y2="629.2" stroke="#e0e0e0"/><line x1="380.5" y1="444.6" x2="380.5" y2="629.2" stroke="#e0e0e0"/><line x1="448.5" y1="444.6" x2="448.5" y2="629.2" stroke="#e0e0e0"/><line x1="516.5" y1="444.6" x2="516.5" y2="629.2" stroke="#e0e0e0"/><line x1="585.5" y1="444.6" x2="585.5" y2="629.2" stroke="#e0e0e0"/><line x1="653.5" y1="444.6" x2="653.5" y2="629.2" stroke="#e0e0e0"/><line x1="721.5" y1="444.6" x2="721.5" y2="629.2" stroke="#e0e0e0"/><line x1="789.5" y1="444.6" x2="789.5" y2="629.2" stroke="#e0e0e0"/><line x1="80.8" y1="458.5" x2="791.2" y2="458.5" stroke="#e6e6e6"/><line x1="80.8" y1="495.5" x2="791.2" y2="495.5" stroke="#e6e6e6"/><line x1="80.8" y1="532.5" x2="791.2" y2="532.5" stroke="#e6e6e6"/><line x1="80.8" y1="568.5" x2="791.2" y2="568.5" stroke="#e6e6e6"/><line x1="80.8" y1="605.5" x2="791.2" y2="605.5" stroke="#e6e6e6"/></g>
<g clip-path="url(#c2)" fill="none" stroke-width="2.1" stroke-linejoin="round" stroke-linecap="round">
<path d="M107.2 507.6 L114.3 504.5 L121.5 501.6 L128.6 499.3 L135.8 496.9 L142.9 494.5 L150.1 492.8 L157.3 491.4 L164.4 489.7 L171.6 488.0 L178.7 486.1 L185.9 484.9 L193.0 483.7 L199.0 482.1 L203.8 481.4 L207.4 480.9 L210.9 482.6 L215.7 484.9 L220.5 488.0 L225.2 492.1 L230.0 496.4 L234.8 501.2 L239.6 505.2 L243.1 508.8 L246.7 513.6 L250.3 518.3 L253.9 523.1 L257.5 528.4 L261.0 532.7 L264.6 537.4 L268.2 541.0 L271.8 544.6 L276.5 548.6 L281.3 551.7 L286.1 554.6 L290.9 557.2 L295.6 560.1 L300.4 563.7 L305.2 567.2 L309.9 572.7 L314.7 578.5 L319.5 583.9 L324.3 589.4 L329.0 594.2 L330.0 594.9 L331.2 595.6 L332.4 596.4 L333.6 597.4 L334.8 598.4 L336.0 599.7 L337.2 600.9 L338.4 602.2 L339.6 603.5 L342.7 605.6 L345.9 607.2 L349.9 608.6 L353.9 609.4 L358.6 610.0 L363.4 610.7 L368.2 611.1 L372.9 611.5 L377.7 611.6 L382.5 611.9 L387.3 612.2 L392.0 612.4 L396.8 612.2 L401.6 611.5 L406.3 610.7 L411.1 609.9 L415.9 609.1 L420.7 608.6 L425.4 608.0 L430.2 607.0 L435.0 605.9 L439.7 604.6 L444.5 603.5 L449.3 602.7 L454.1 601.9 L458.8 600.8 L463.6 599.2 L468.4 597.1 L473.1 595.2 L477.9 593.5 L480.0 592.5 L481.2 592.0 L482.4 591.5 L483.6 590.8 L484.8 590.1 L486.0 589.3 L487.2 588.6 L488.4 587.8 L489.6 587.0 L492.7 585.9 L495.9 585.1 L499.1 584.8 L503.9 584.8 L508.6 585.4 L513.4 586.2 L518.2 586.7 L522.9 586.7 L526.9 585.9 L530.9 585.1 L534.9 584.3 L538.8 583.2 L542.8 581.9 L546.8 580.6 L550.8 579.5 L554.8 578.3 L558.7 577.1 L562.7 575.5 L566.7 574.0 L570.7 571.6 L574.6 569.2 L578.6 567.1 L582.6 565.5 L586.6 563.9 L590.5 561.7 L594.5 559.6 L598.5 557.3 L602.5 555.2 L606.4 553.6 L610.4 551.7 L614.4 549.6 L618.4 547.7 L620.0 546.7 L621.2 546.0 L622.4 545.3 L623.6 544.6 L624.8 543.9 L626.0 543.1 L627.2 542.4 L628.4 541.6 L629.6 540.8 L630.8 539.9 L632.0 539.0 L633.2 538.0 L634.4 537.2 L635.6 536.3 L636.8 535.4 L638.0 534.5 L639.2 533.8 L642.2 532.2 L646.7 530.1 L651.1 527.2 L655.6 523.8 L660.0 519.7 L664.5 514.4 L668.9 508.2 L673.4 503.7 L677.8 499.3 L682.3 495.4 L686.7 492.2 L691.2 489.5 L695.6 487.7 L700.1 486.3 L704.5 485.6 L709.0 485.4 L713.4 485.4 L717.9 485.6 L722.3 486.3 L726.8 485.9 L731.2 486.8 L735.7 487.7 L740.1 488.6 L744.6 490.0 L749.0 491.6 L753.5 493.0 L757.9 494.8 L762.4 496.6 L765.6 498.0" stroke="#00ff00"/>
<path d="M107.2 507.6 L110.7 506.9 L114.3 506.9 L117.9 508.3 L121.5 507.6 L125.0 505.2 L128.6 502.8 L132.2 500.4 L135.8 499.3 L139.4 496.9 L142.9 493.8 L146.5 492.1 L150.1 492.8 L153.7 492.1 L157.3 490.9 L160.8 489.7 L164.4 487.3 L168.0 484.9 L171.6 482.1 L175.1 476.6 L178.3 472.3 L181.1 471.8 L184.0 473.0 L187.1 474.2 L190.2 475.4 L193.0 479.0 L196.6 483.0 L200.2 486.9 L203.8 489.7 L207.4 492.8 L210.9 495.7 L214.0 496.9 L216.9 499.3 L219.3 500.0 L222.9 504.0 L226.4 507.6 L230.0 510.7 L232.4 510.0 L236.0 513.6 L239.6 514.8 L243.1 518.8 L246.7 521.9 L249.8 523.6 L252.7 527.4 L256.3 529.1 L259.8 533.8 L263.4 538.6 L267.0 544.1 L269.4 543.4 L271.8 549.4 L274.2 554.1 L277.0 558.9 L280.1 557.7 L283.7 560.8 L287.3 563.7 L290.9 566.1 L293.2 565.6 L295.6 568.9 L299.2 572.0 L302.8 575.1 L305.6 579.2 L308.7 578.0 L311.8 582.3 L314.7 585.6 L318.3 586.8 L321.9 585.1 L325.4 582.3 L327.8 586.3 L330.0 587.8 L331.2 588.6 L332.4 588.9 L333.6 589.2 L334.8 589.3 L336.0 589.4 L337.2 589.9 L338.4 590.5 L339.6 590.5 L341.1 590.0 L342.7 589.2 L345.1 592.4 L347.5 595.5 L349.9 597.9 L352.3 599.0 L355.4 598.7 L357.8 595.5 L359.9 593.2 L361.8 596.0 L364.2 598.7 L366.6 600.8 L369.0 602.4 L371.4 601.1 L373.7 600.3 L376.1 599.8 L378.5 600.3 L380.9 602.7 L383.3 606.7 L385.7 607.2 L388.1 606.2 L390.4 605.9 L392.8 606.7 L395.2 607.2 L397.6 608.3 L400.0 607.8 L402.4 610.3 L404.8 611.0 L407.1 611.0 L409.5 612.2 L411.9 613.5 L414.3 614.6 L416.7 615.1 L419.1 613.5 L421.5 611.9 L423.8 611.5 L425.4 612.2 L427.3 611.0 L429.4 611.5 L431.0 615.4 L432.6 616.2 L435.0 614.6 L437.4 613.8 L439.7 611.9 L442.1 610.3 L444.5 609.9 L447.7 610.7 L450.9 611.0 L454.1 609.9 L457.2 609.1 L459.6 607.5 L462.0 605.9 L464.4 607.5 L466.5 608.3 L468.4 607.2 L470.8 607.2 L473.1 606.7 L475.5 605.6 L477.9 607.2 L480.0 606.7 L481.2 605.9 L482.4 604.9 L483.6 603.8 L484.8 602.7 L486.0 602.0 L487.2 601.3 L488.4 600.8 L489.6 600.2 L491.1 601.0 L493.5 602.6 L495.9 600.2 L498.3 600.5 L500.7 601.0 L503.1 601.8 L505.4 601.5 L507.8 601.0 L510.2 599.4 L512.6 597.3 L514.2 597.8 L515.8 599.9 L517.4 601.5 L519.4 599.9 L522.1 598.3 L524.5 597.0 L526.9 595.1 L529.3 592.6 L530.9 590.7 L532.8 589.9 L534.9 591.0 L537.3 590.3 L539.6 589.9 L542.0 588.7 L544.4 586.7 L546.8 585.9 L549.2 586.7 L551.6 585.9 L554.0 585.1 L557.1 583.5 L559.5 579.5 L561.9 577.9 L563.5 579.2 L565.9 580.3 L568.3 578.7 L570.7 576.0 L573.0 573.2 L575.4 569.7 L578.6 566.8 L581.8 564.9 L585.0 564.9 L588.2 563.3 L591.3 560.8 L594.5 558.1 L597.7 556.0 L599.6 555.3 L601.7 551.2 L604.1 548.5 L607.2 546.9 L610.4 544.5 L613.6 543.3 L616.8 541.4 L620.0 540.6 L620.0 540.5 L621.2 540.0 L622.4 539.5 L623.6 538.9 L624.8 538.4 L626.0 538.2 L627.2 538.4 L628.4 538.2 L629.6 537.4 L630.8 536.4 L632.0 535.2 L633.2 533.9 L634.4 532.1 L635.6 530.5 L636.8 529.2 L638.0 528.3 L639.2 527.5 L641.4 526.5 L644.0 524.7 L646.7 522.8 L649.4 522.4 L652.0 520.1 L654.7 517.1 L657.4 514.4 L660.0 512.6 L661.8 512.3 L664.5 509.1 L667.2 506.4 L669.8 501.9 L672.5 497.5 L675.2 494.5 L677.8 490.4 L680.5 487.7 L683.2 484.5 L685.8 481.5 L688.5 480.6 L691.2 480.2 L693.9 479.7 L696.5 479.7 L699.2 479.3 L701.9 479.7 L704.5 480.1 L707.2 480.6 L709.9 481.5 L712.5 483.3 L715.2 484.2 L717.9 485.0 L720.5 487.4 L723.2 489.0 L725.9 490.9 L728.6 492.2 L731.2 494.8 L733.9 498.4 L735.7 499.3 L738.3 498.4 L741.0 500.2 L743.7 501.4 L746.3 501.9 L749.0 503.4 L751.7 506.4 L754.4 507.6 L757.0 507.3 L759.7 506.4 L762.4 505.5 L765.6 506.8" stroke="#0000ff"/>
<path d="M107.2 513.1 L110.7 514.3 L114.3 511.9 L117.9 507.6 L121.5 502.8 L125.0 498.5 L128.6 494.5 L132.2 491.6 L135.8 487.8 L139.4 483.7 L142.9 480.2 L146.5 478.3 L150.1 479.0 L153.7 478.3 L157.3 477.1 L160.8 475.9 L164.4 474.2 L168.0 471.8 L171.6 468.7 L175.1 466.6 L178.3 466.6 L181.1 469.4 L183.5 475.4 L185.9 484.9 L188.3 495.7 L190.7 506.4 L193.0 517.1 L195.4 526.7 L198.3 533.8 L201.4 538.1 L205.0 541.0 L208.5 542.9 L212.1 543.9 L215.7 542.2 L219.3 539.3 L222.9 538.1 L226.4 539.3 L230.0 541.5 L233.6 542.7 L236.5 542.9 L239.6 545.8 L243.1 549.4 L247.9 552.9 L252.7 556.0 L257.5 559.4 L262.2 562.5 L267.0 564.9 L271.8 566.5 L276.5 567.7 L281.3 568.0 L286.1 568.4 L290.9 568.0 L295.6 568.4 L300.4 570.1 L305.2 570.8 L309.9 570.3 L314.7 569.6 L319.5 568.0 L324.3 566.5 L329.0 564.9 L330.0 564.5 L331.2 564.2 L332.4 563.8 L333.6 563.4 L334.8 563.1 L336.0 562.9 L337.2 562.6 L338.4 562.7 L339.6 562.8 L341.1 562.9 L345.1 564.2 L349.1 563.7 L353.1 561.0 L357.0 557.4 L361.0 554.2 L365.0 553.1 L369.0 553.7 L372.1 556.3 L375.3 560.6 L378.5 566.9 L381.7 573.3 L384.9 579.6 L388.1 586.0 L391.2 590.8 L394.4 593.5 L397.6 593.5 L400.8 593.2 L404.0 594.0 L407.1 594.3 L410.3 593.5 L413.5 591.9 L416.7 590.0 L419.9 588.1 L423.0 587.6 L425.4 588.7 L427.8 591.6 L430.2 593.5 L433.4 593.5 L436.6 592.4 L439.7 591.1 L442.9 589.7 L446.1 588.9 L449.3 589.2 L452.5 590.0 L455.6 591.3 L458.8 592.4 L462.8 592.8 L466.8 593.2 L470.8 593.5 L474.7 593.5 L478.7 592.4 L480.0 591.6 L481.2 590.9 L482.4 590.1 L483.6 589.3 L484.8 588.6 L486.0 587.8 L487.2 587.3 L488.4 586.9 L489.6 586.7 L492.7 587.2 L495.9 588.6 L499.1 589.9 L502.3 591.0 L505.4 592.2 L508.6 593.5 L511.8 594.2 L515.0 594.2 L518.2 593.5 L521.4 592.2 L524.5 590.7 L527.7 589.4 L530.9 588.3 L534.9 587.2 L538.8 586.2 L542.8 585.1 L546.8 583.5 L550.8 582.4 L554.8 581.4 L558.7 580.3 L562.7 579.0 L566.7 577.9 L569.9 576.0 L573.0 573.5 L576.2 571.9 L579.4 571.3 L582.6 570.8 L585.8 570.5 L588.9 570.0 L592.1 568.4 L595.3 566.5 L598.5 564.1 L601.7 561.7 L604.9 559.2 L608.0 556.9 L611.2 554.4 L614.4 551.7 L616.8 549.8 L619.2 549.3 L620.0 549.6 L621.2 550.0 L622.4 550.3 L623.6 550.5 L624.8 550.3 L626.0 550.0 L627.2 549.4 L628.4 548.7 L629.6 547.9 L630.8 546.8 L632.0 545.7 L633.2 544.5 L634.4 543.2 L635.6 541.9 L636.8 540.5 L638.0 539.1 L639.2 537.7 L643.1 533.6 L646.7 530.4 L650.3 527.2 L653.8 523.3 L657.4 519.4 L660.9 516.2 L664.5 513.5 L667.2 510.8 L669.8 507.3 L672.5 503.4 L675.2 500.2 L677.8 496.6 L680.5 493.0 L683.2 489.5 L685.8 486.8 L688.5 485.0 L691.2 483.3 L693.9 482.0 L696.5 481.5 L699.2 481.5 L701.9 482.4 L704.5 483.3 L707.2 483.8 L709.9 484.5 L712.5 485.0 L715.2 485.9 L717.9 486.8 L721.4 488.2 L725.0 489.5 L728.6 490.9 L732.1 492.5 L735.7 493.0 L739.2 492.7 L742.8 491.8 L746.3 490.4 L749.9 489.5 L753.5 488.6 L757.0 487.7 L759.7 487.7 L762.4 489.1 L765.6 491.3" stroke="#ffff00"/>
<path d="M107.2 511.7 L110.7 513.6 L114.3 511.2 L117.9 507.6 L121.5 502.8 L125.0 498.1 L128.6 494.0 L132.2 490.9 L135.8 487.3 L139.4 483.0 L142.9 479.5 L146.5 477.3 L150.1 477.8 L153.7 477.1 L157.3 475.4 L160.8 474.2 L164.4 471.8 L168.0 468.7 L171.6 464.7 L175.1 460.6 L178.7 458.7 L181.6 457.5 L183.5 459.9 L185.4 467.0 L187.8 477.8 L190.2 489.7 L192.6 502.8 L195.0 514.8 L197.3 523.1 L200.2 527.4 L203.8 529.6 L207.4 529.1 L210.9 530.3 L214.5 529.1 L218.1 525.5 L221.7 522.6 L225.2 521.4 L228.8 523.1 L232.4 525.5 L236.0 525.5 L239.6 528.4 L243.1 532.2 L247.9 535.8 L252.7 539.3 L257.5 542.9 L262.2 546.3 L267.0 549.4 L271.8 551.7 L276.5 554.1 L281.3 556.5 L286.1 558.2 L290.9 558.9 L295.6 560.8 L300.4 563.7 L305.2 566.8 L309.9 568.4 L314.7 569.6 L319.5 570.3 L324.3 570.3 L329.0 570.1 L330.0 569.9 L331.2 569.6 L332.4 569.2 L333.6 568.8 L334.8 568.5 L336.0 568.3 L337.2 568.0 L338.4 568.1 L339.6 568.3 L340.3 568.5 L343.5 570.9 L346.7 572.5 L349.9 572.2 L353.1 569.6 L356.2 566.6 L359.4 564.2 L362.6 562.6 L365.8 562.1 L369.0 562.9 L372.1 565.3 L374.5 570.1 L376.9 576.5 L379.3 582.8 L381.7 588.4 L384.1 593.2 L386.5 598.7 L388.5 603.5 L390.4 607.2 L392.8 608.7 L395.2 608.7 L397.6 607.8 L400.8 606.7 L404.0 606.4 L407.1 605.9 L410.3 604.0 L413.5 601.4 L416.7 598.7 L419.9 595.5 L422.2 593.6 L424.6 594.0 L427.0 597.1 L429.4 600.3 L431.8 601.1 L434.2 599.5 L437.4 598.4 L440.5 596.8 L443.7 594.8 L446.9 594.0 L450.1 594.3 L453.3 594.8 L457.2 595.5 L461.2 596.0 L465.2 596.0 L469.2 595.5 L473.1 594.8 L477.1 594.0 L480.0 592.6 L481.2 592.0 L482.4 591.3 L483.6 590.5 L484.8 589.8 L486.0 589.0 L487.2 588.3 L488.4 587.7 L489.6 587.1 L492.7 587.0 L495.9 587.8 L499.1 588.6 L502.3 589.4 L505.4 590.7 L508.6 591.8 L511.8 592.2 L515.0 591.9 L518.2 591.0 L521.4 589.4 L524.5 587.5 L527.7 585.9 L530.9 584.8 L534.9 583.8 L538.8 582.4 L542.8 580.8 L546.8 579.5 L550.8 578.3 L554.8 577.1 L558.7 575.9 L562.7 574.4 L566.7 573.2 L569.9 571.6 L572.2 570.0 L574.6 568.7 L577.8 567.6 L581.0 566.8 L584.2 566.0 L587.4 565.5 L590.5 564.4 L593.7 562.8 L596.9 560.9 L600.1 558.8 L603.3 556.5 L606.4 554.9 L609.6 552.8 L612.8 550.1 L615.2 548.5 L617.6 548.0 L620.0 548.5 L620.0 548.5 L621.2 549.0 L622.4 549.5 L623.6 549.3 L624.8 549.0 L626.0 548.4 L627.2 547.7 L628.4 547.0 L629.6 546.1 L630.8 545.1 L632.0 544.0 L633.2 542.7 L634.4 541.5 L635.6 540.1 L636.8 538.8 L638.0 537.5 L639.2 536.2 L643.1 532.6 L646.7 530.1 L650.3 527.2 L653.8 524.2 L657.4 520.6 L660.9 518.3 L664.5 515.8 L667.2 513.5 L669.8 510.0 L672.5 507.3 L675.2 505.5 L677.8 502.8 L680.5 499.3 L683.2 496.1 L685.8 494.3 L688.5 493.0 L691.2 491.3 L693.9 489.5 L696.5 488.2 L699.2 487.7 L701.9 488.1 L704.5 489.0 L707.2 489.0 L709.9 489.5 L712.5 490.4 L715.2 490.9 L717.9 491.6 L720.0 493.9 L722.3 496.6 L724.6 497.1 L726.8 496.6 L728.9 498.4 L731.2 501.1 L733.9 501.9 L736.6 501.1 L739.2 500.2 L741.9 498.9 L744.6 498.0 L747.2 497.9 L749.9 497.9 L752.6 497.5 L755.2 496.3 L757.9 495.4 L760.6 496.6 L763.3 498.4 L765.6 499.8" stroke="#ff0000"/>
</g>
<rect x="80.8" y="444.6" width="710.4" height="184.6" rx="1.8" fill="none" stroke="#616161" stroke-width="1.7"/>
<g clip-path="url(#xc)" font-family="'Liberation Sans', sans-serif" font-size="14.3" fill="#9b9b9b"><text x="107.5" y="642.8" text-anchor="middle">0</text><text x="175.7" y="642.8" text-anchor="middle">0.002</text><text x="244.0" y="642.8" text-anchor="middle">0.004</text><text x="312.2" y="642.8" text-anchor="middle">0.006</text><text x="380.4" y="642.8" text-anchor="middle">0.008</text><text x="448.7" y="642.8" text-anchor="middle">0.01</text><text x="516.9" y="642.8" text-anchor="middle">0.012</text><text x="585.1" y="642.8" text-anchor="middle">0.014</text><text x="653.3" y="642.8" text-anchor="middle">0.016</text><text x="721.6" y="642.8" text-anchor="middle">0.018</text><text x="789.8" y="642.8" text-anchor="middle">0.02</text></g>
<g font-family="'Liberation Sans', sans-serif" font-size="14.3" fill="#9b9b9b"><text x="75.4" y="463.2" text-anchor="end">-3110</text><text x="75.4" y="500.1" text-anchor="end">-3120</text><text x="75.4" y="536.9" text-anchor="end">-3130</text><text x="75.4" y="573.8" text-anchor="end">-3140</text><text x="75.4" y="610.6" text-anchor="end">-3150</text></g>
<text x="389.9" y="468.9" font-family="'Liberation Serif', serif" font-weight="bold" font-size="20.9" fill="#111">Profile A3</text>
<text transform="translate(27.7 534.3) rotate(-90)" text-anchor="middle" font-family="'Liberation Serif', serif" font-size="18.8" fill="#111" stroke="#111" stroke-width="0.35">DTM height (m)</text>
</g>
<g>
<clipPath id="c3"><rect x="80.8" y="659.2" width="710.4" height="184.6"/></clipPath>
<g stroke-width="1"><line x1="107.5" y1="659.2" x2="107.5" y2="843.8" stroke="#c2c2c2"/><line x1="172.5" y1="659.2" x2="172.5" y2="843.8" stroke="#e0e0e0"/><line x1="237.5" y1="659.2" x2="237.5" y2="843.8" stroke="#e0e0e0"/><line x1="301.5" y1="659.2" x2="301.5" y2="843.8" stroke="#e0e0e0"/><line x1="366.5" y1="659.2" x2="366.5" y2="843.8" stroke="#e0e0e0"/><line x1="431.5" y1="659.2" x2="431.5" y2="843.8" stroke="#e0e0e0"/><line x1="496.5" y1="659.2" x2="496.5" y2="843.8" stroke="#e0e0e0"/><line x1="560.5" y1="659.2" x2="560.5" y2="843.8" stroke="#e0e0e0"/><line x1="625.5" y1="659.2" x2="625.5" y2="843.8" stroke="#e0e0e0"/><line x1="690.5" y1="659.2" x2="690.5" y2="843.8" stroke="#e0e0e0"/><line x1="755.5" y1="659.2" x2="755.5" y2="843.8" stroke="#c2c2c2"/><line x1="80.8" y1="665.5" x2="791.2" y2="665.5" stroke="#e6e6e6"/><line x1="80.8" y1="687.5" x2="791.2" y2="687.5" stroke="#e6e6e6"/><line x1="80.8" y1="709.5" x2="791.2" y2="709.5" stroke="#e6e6e6"/><line x1="80.8" y1="731.5" x2="791.2" y2="731.5" stroke="#e6e6e6"/><line x1="80.8" y1="753.5" x2="791.2" y2="753.5" stroke="#e6e6e6"/><line x1="80.8" y1="775.5" x2="791.2" y2="775.5" stroke="#e6e6e6"/><line x1="80.8" y1="797.5" x2="791.2" y2="797.5" stroke="#e6e6e6"/><line x1="80.8" y1="819.5" x2="791.2" y2="819.5" stroke="#e6e6e6"/></g>
<g clip-path="url(#c3)" fill="none" stroke-width="2.1" stroke-linejoin="round" stroke-linecap="round">
<path d="M107.6 728.8 L111.9 726.8 L116.9 723.9 L121.9 721.5 L126.8 719.9 L131.8 719.1 L136.8 718.9 L141.7 719.3 L146.7 719.9 L151.7 720.3 L156.7 720.9 L161.6 721.9 L166.6 722.9 L171.6 724.3 L176.5 726.8 L181.5 729.4 L186.5 731.8 L191.5 734.2 L196.4 736.4 L201.4 738.8 L206.4 741.4 L211.3 744.1 L216.3 747.3 L221.3 750.7 L226.2 754.1 L231.2 757.7 L236.2 761.6 L241.2 765.2 L246.1 768.6 L251.1 771.6 L256.1 774.2 L261.0 776.5 L266.0 778.5 L271.0 780.5 L275.9 782.5 L280.9 784.5 L285.9 787.1 L290.0 789.1 L291.2 789.5 L292.4 790.0 L293.6 790.7 L294.8 791.5 L296.0 792.4 L297.2 793.4 L298.4 794.5 L299.6 795.5 L301.9 797.3 L305.9 800.1 L309.9 802.3 L313.9 804.4 L317.8 806.3 L321.8 807.9 L325.8 809.2 L329.8 810.3 L333.7 811.3 L337.7 812.0 L341.7 812.8 L345.7 814.0 L349.6 814.8 L353.6 815.5 L357.6 816.3 L361.6 817.1 L365.5 818.3 L369.5 819.5 L373.5 820.8 L377.5 821.6 L381.5 822.2 L385.4 822.7 L390.2 822.9 L395.0 822.7 L399.7 822.4 L404.5 821.6 L409.3 820.6 L414.1 819.2 L418.8 817.6 L423.6 816.0 L428.4 814.8 L433.1 814.0 L437.9 813.5 L440.0 813.3 L441.2 813.3 L442.4 813.2 L443.6 813.2 L444.8 813.2 L446.0 813.2 L447.2 813.2 L448.4 813.2 L449.6 813.3 L451.9 813.5 L455.9 814.0 L459.9 814.8 L463.9 815.5 L467.8 816.3 L471.8 817.1 L476.6 816.8 L481.4 816.0 L486.1 815.1 L490.9 814.1 L495.7 813.2 L500.4 811.9 L505.2 810.8 L510.0 809.7 L514.8 808.7 L519.5 807.9 L524.3 806.8 L529.1 805.5 L533.8 803.9 L538.6 802.0 L543.4 799.6 L548.2 796.9 L552.9 794.1 L557.7 791.7 L562.5 789.6 L567.2 788.0 L572.0 786.6 L576.8 785.3 L581.6 784.2 L586.3 783.3 L590.0 782.6 L591.2 782.5 L592.4 782.3 L593.6 782.1 L594.8 781.9 L596.0 781.6 L597.2 781.3 L598.4 780.9 L599.6 780.5 L604.9 778.7 L609.9 775.4 L613.9 771.4 L617.8 766.4 L621.8 760.5 L625.8 754.5 L629.8 748.5 L633.7 743.2 L637.7 739.2 L641.7 736.0 L645.7 733.2 L649.6 729.6 L653.6 726.7 L657.6 723.3 L661.6 720.7 L665.5 718.7 L669.5 716.7 L673.5 714.7 L677.5 712.7 L681.5 710.8 L685.4 709.4 L689.4 708.4 L693.4 707.8 L697.4 707.8 L701.3 708.8 L705.3 710.4 L709.3 711.7 L713.3 713.3 L717.2 714.7 L721.2 716.1 L725.2 717.7 L729.2 719.1 L733.1 720.3 L737.1 721.3 L741.1 722.1 L745.1 722.7 L749.0 723.3 L753.0 724.1 L757.0 725.3 L761.0 726.7 L765.0 728.1" stroke="#00ff00"/>
<path d="M107.6 729.8 L110.9 728.2 L114.9 725.8 L118.9 723.5 L122.9 720.9 L126.8 718.9 L130.8 717.9 L134.8 717.5 L138.8 717.5 L142.7 717.9 L146.7 718.9 L150.7 719.9 L154.7 720.3 L158.6 721.5 L162.6 722.3 L166.6 722.3 L170.6 720.9 L173.6 720.3 L176.5 720.9 L179.5 721.9 L183.5 723.9 L187.5 726.4 L191.5 729.4 L195.4 731.4 L199.4 733.4 L202.4 735.8 L205.4 738.8 L208.3 741.4 L211.3 743.7 L214.3 746.7 L217.3 749.3 L220.3 751.7 L223.3 754.1 L226.2 757.3 L229.2 759.6 L232.2 761.2 L235.2 764.6 L238.2 767.2 L241.2 769.2 L244.1 770.6 L247.1 772.6 L250.1 774.6 L253.1 777.1 L256.1 780.1 L259.0 780.5 L262.0 781.5 L264.0 784.5 L266.0 788.5 L268.0 786.5 L270.0 787.5 L273.0 788.5 L275.9 789.9 L277.9 790.5 L280.5 788.5 L282.9 790.5 L285.9 792.4 L288.9 793.8 L290.0 794.3 L291.2 794.8 L292.4 795.0 L293.6 795.0 L294.8 795.1 L296.0 795.5 L297.2 796.0 L298.4 796.6 L299.6 797.3 L302.7 799.2 L305.9 800.1 L309.1 799.6 L312.3 802.0 L315.4 803.6 L318.6 805.2 L321.8 806.5 L325.0 807.6 L328.2 809.7 L330.6 812.4 L332.1 812.8 L334.5 810.8 L336.9 809.7 L339.3 810.0 L342.5 811.1 L345.7 812.4 L348.8 811.9 L352.0 813.2 L355.2 814.0 L358.4 814.8 L361.6 814.0 L364.0 814.8 L366.3 814.0 L368.7 813.5 L370.3 815.5 L372.7 817.9 L374.3 817.6 L376.7 815.5 L379.1 816.8 L381.5 817.9 L384.6 818.4 L387.8 817.9 L391.0 817.9 L394.2 818.4 L397.4 819.0 L400.5 817.9 L403.7 818.7 L406.9 819.5 L410.1 820.8 L413.3 820.0 L416.4 819.0 L419.6 817.9 L422.0 817.6 L425.2 818.7 L428.4 819.8 L431.6 820.0 L434.7 821.1 L437.9 819.8 L440.0 819.1 L441.2 818.7 L442.4 818.7 L443.6 818.9 L444.8 819.2 L446.0 819.3 L447.2 819.5 L448.4 819.1 L449.6 818.7 L452.7 818.3 L455.9 817.9 L459.1 817.6 L462.3 817.6 L465.4 817.1 L468.6 817.5 L471.8 817.1 L475.0 817.5 L478.2 817.1 L481.4 816.0 L484.5 814.4 L487.7 813.5 L490.9 812.4 L493.3 811.3 L495.7 811.6 L498.8 811.1 L502.0 810.3 L505.2 809.5 L508.4 809.7 L510.8 808.4 L513.2 806.5 L514.8 806.0 L516.3 807.6 L517.9 807.1 L520.3 805.2 L522.7 803.3 L525.9 801.7 L528.3 802.3 L530.7 802.8 L533.8 801.2 L537.0 800.1 L540.2 798.5 L543.4 796.9 L546.6 796.0 L549.7 795.3 L552.9 794.1 L555.3 794.6 L557.7 795.7 L560.1 794.9 L562.5 791.2 L565.6 790.1 L568.8 789.0 L572.0 788.0 L575.2 786.9 L578.4 785.8 L581.6 785.3 L584.7 783.7 L587.9 781.7 L590.0 780.4 L591.2 779.8 L592.4 779.2 L593.6 778.5 L594.8 777.9 L596.0 777.3 L597.2 776.6 L598.4 776.2 L599.6 775.9 L601.9 775.4 L605.9 773.0 L608.9 770.4 L611.9 769.4 L614.9 767.8 L617.8 765.4 L620.8 762.4 L623.8 760.5 L626.8 758.5 L629.8 755.5 L632.7 752.5 L635.7 750.5 L638.7 746.5 L641.7 743.6 L644.7 740.6 L647.7 736.6 L650.6 733.6 L653.2 732.6 L655.6 728.6 L658.6 724.1 L661.6 721.3 L664.6 718.3 L667.5 715.3 L670.5 712.1 L673.5 710.4 L676.5 709.4 L679.5 708.2 L682.4 705.8 L685.4 702.8 L687.4 701.4 L690.4 702.4 L693.4 703.8 L696.4 705.8 L699.3 708.2 L702.3 709.8 L705.3 711.2 L708.3 710.8 L711.3 711.7 L714.3 713.3 L717.2 714.7 L720.2 715.7 L723.2 716.1 L726.2 717.1 L729.2 717.7 L732.1 719.7 L735.1 721.3 L738.1 721.3 L741.1 722.1 L744.1 722.7 L747.1 724.1 L750.0 725.1 L753.0 726.1 L757.0 727.7 L761.0 728.6 L765.0 729.6" stroke="#0000ff"/>
<path d="M107.6 725.8 L110.9 723.5 L114.9 720.3 L118.9 716.9 L122.9 713.5 L126.8 710.9 L130.8 709.5 L134.8 709.3 L138.8 709.9 L141.7 711.5 L144.7 713.9 L147.7 716.3 L150.7 717.5 L154.7 717.9 L158.6 718.3 L162.6 719.3 L166.6 719.9 L170.6 718.9 L174.6 718.9 L178.5 719.5 L182.5 720.3 L186.5 721.3 L190.5 722.9 L194.4 724.3 L198.4 725.8 L201.4 727.2 L204.4 730.8 L207.4 734.8 L210.3 736.8 L214.3 738.8 L218.3 741.7 L222.3 743.7 L226.2 746.1 L230.2 748.7 L234.2 752.7 L238.2 756.3 L242.1 758.3 L246.1 759.6 L250.1 760.6 L254.1 761.6 L258.1 763.0 L262.0 764.6 L266.0 766.6 L270.0 768.2 L274.0 769.2 L277.9 770.0 L281.9 770.6 L285.9 771.6 L289.9 772.6 L290.0 772.6 L291.2 773.2 L292.4 773.8 L293.6 774.6 L294.8 775.7 L296.0 776.9 L297.2 778.3 L298.4 780.0 L299.6 781.7 L302.7 786.9 L305.9 791.7 L309.1 794.9 L312.3 796.0 L316.2 796.5 L320.2 797.3 L324.2 797.6 L328.2 797.3 L332.1 798.5 L336.1 800.8 L340.1 803.3 L344.1 805.7 L348.1 807.3 L352.0 808.4 L355.2 808.9 L358.4 810.8 L361.6 812.8 L364.8 816.0 L367.9 819.2 L371.1 821.1 L375.1 821.9 L379.1 821.6 L383.0 820.3 L386.2 819.5 L389.4 820.3 L392.6 822.7 L395.8 825.9 L398.9 828.3 L402.1 829.4 L405.3 829.4 L408.5 828.6 L410.9 827.2 L413.3 825.6 L415.6 825.9 L418.0 827.2 L421.2 827.0 L425.2 826.7 L429.2 826.4 L433.1 825.1 L437.1 823.8 L440.0 824.2 L441.2 824.4 L442.4 824.5 L443.6 824.5 L444.8 824.5 L446.0 824.3 L447.2 824.0 L448.4 823.8 L449.6 823.5 L452.7 822.7 L455.9 822.7 L459.1 822.2 L462.3 821.4 L465.4 820.8 L468.6 820.3 L471.8 820.3 L475.0 819.5 L478.2 818.3 L481.4 817.1 L483.7 815.5 L486.1 815.5 L488.5 817.9 L490.9 819.5 L494.1 819.2 L497.3 817.9 L500.4 816.3 L503.6 815.5 L506.8 815.5 L510.0 814.4 L513.2 813.5 L516.3 813.5 L519.5 812.7 L522.7 811.6 L526.7 810.0 L529.9 808.7 L533.0 806.8 L536.2 804.9 L539.4 802.5 L542.6 800.1 L545.8 798.5 L548.9 797.3 L552.1 795.7 L555.3 793.8 L558.5 793.3 L561.7 793.8 L564.9 793.3 L568.8 792.2 L572.8 791.7 L576.8 790.9 L580.8 789.6 L584.7 788.0 L587.9 786.4 L590.0 785.7 L591.2 786.0 L592.4 786.3 L593.6 786.7 L594.8 787.1 L596.0 787.4 L597.2 787.6 L598.4 787.6 L599.6 787.5 L601.9 787.3 L605.9 785.3 L609.9 782.3 L613.9 778.3 L617.8 773.4 L621.8 767.8 L625.8 761.8 L629.8 754.5 L633.7 747.5 L637.7 740.0 L641.7 732.6 L645.7 725.7 L649.6 718.7 L653.6 711.4 L657.6 703.8 L661.6 695.8 L664.6 690.9 L666.5 688.3 L669.5 686.3 L673.5 683.9 L677.5 681.5 L681.5 678.9 L684.4 675.6 L687.4 673.0 L689.4 674.4 L691.0 678.9 L693.0 686.9 L695.0 694.9 L697.0 700.8 L699.3 703.8 L703.3 704.8 L707.3 706.2 L711.3 707.4 L714.3 708.2 L717.2 710.8 L720.2 713.7 L723.2 716.7 L726.2 719.7 L729.2 722.7 L732.1 725.7 L735.1 727.7 L738.1 729.6 L741.1 732.0 L745.1 733.6 L749.0 734.6 L753.0 736.6 L757.0 738.0 L761.0 739.2 L765.0 739.2" stroke="#ffff00"/>
<path d="M107.6 731.8 L110.9 729.4 L114.9 726.8 L118.9 723.5 L122.9 719.9 L126.8 716.9 L129.8 715.5 L133.8 715.5 L137.8 715.9 L141.7 717.9 L144.7 720.9 L147.7 722.9 L150.7 723.9 L154.7 724.3 L158.6 724.9 L162.6 725.8 L166.6 725.8 L170.6 724.3 L173.6 724.9 L177.5 726.2 L181.5 727.8 L185.5 728.8 L189.5 730.2 L193.4 731.8 L197.4 732.8 L200.4 733.8 L202.4 735.8 L204.4 739.8 L206.4 742.7 L208.3 744.7 L211.3 744.7 L214.3 745.7 L217.3 747.7 L221.3 750.7 L225.2 753.3 L229.2 756.7 L233.2 760.6 L237.2 764.0 L241.2 766.6 L245.1 768.2 L249.1 769.0 L253.1 769.6 L257.1 770.6 L261.0 772.0 L265.0 773.6 L269.0 775.0 L273.0 775.5 L276.9 775.5 L280.9 776.1 L284.9 777.1 L288.9 777.9 L290.0 778.5 L291.2 779.1 L292.4 780.0 L293.6 781.4 L294.8 782.9 L296.0 784.9 L297.2 786.8 L298.4 789.0 L299.6 791.3 L301.9 794.9 L304.3 799.2 L306.7 802.8 L308.8 805.2 L311.0 806.0 L313.9 805.2 L317.0 804.4 L320.2 804.4 L323.4 803.3 L326.6 802.3 L329.8 802.8 L332.9 803.9 L336.1 806.0 L339.3 808.4 L342.5 810.5 L345.7 812.4 L348.8 813.5 L352.0 814.0 L354.4 813.5 L356.8 815.5 L360.0 817.1 L362.4 817.9 L364.8 820.3 L367.1 823.0 L369.5 824.6 L372.7 825.4 L376.7 825.1 L379.9 824.0 L383.0 821.9 L385.4 820.0 L387.8 819.8 L390.2 821.9 L392.6 824.3 L395.0 827.2 L397.4 829.4 L400.5 830.3 L403.7 830.7 L406.9 830.2 L409.3 828.7 L411.7 826.7 L413.7 825.4 L415.6 826.7 L418.0 827.5 L421.2 826.4 L424.4 825.6 L428.4 825.1 L432.3 824.3 L435.5 822.7 L438.7 821.9 L440.0 822.0 L441.2 822.1 L442.4 822.2 L443.6 822.1 L444.8 821.8 L446.0 821.5 L447.2 821.2 L448.4 820.9 L449.6 820.6 L452.7 819.8 L455.9 819.2 L459.1 818.7 L462.3 817.9 L465.4 817.1 L467.8 816.3 L470.2 817.1 L472.6 817.5 L475.0 816.3 L478.2 814.4 L481.4 812.4 L483.7 811.1 L485.8 811.1 L487.4 813.5 L489.3 816.0 L491.7 816.0 L494.9 814.8 L498.1 813.2 L501.2 811.6 L503.6 811.9 L506.8 811.6 L510.0 810.0 L513.2 809.7 L516.3 809.7 L519.5 808.7 L522.7 807.6 L526.7 806.0 L529.9 804.4 L533.0 802.8 L536.2 800.9 L539.4 798.5 L542.6 796.5 L545.8 795.7 L548.9 794.9 L551.3 793.3 L553.7 791.2 L556.1 789.6 L558.5 789.3 L560.9 790.1 L563.3 790.6 L566.4 790.4 L569.6 789.6 L572.8 789.0 L576.0 788.0 L579.2 787.4 L582.3 786.9 L585.5 786.1 L588.7 785.0 L590.0 785.2 L591.2 785.3 L592.4 785.6 L593.6 785.9 L594.8 786.2 L596.0 786.5 L597.2 786.8 L598.4 787.0 L599.6 787.2 L601.9 787.7 L605.9 787.3 L609.9 784.9 L613.9 781.3 L617.8 777.0 L621.8 771.8 L625.8 766.4 L629.8 760.5 L633.7 754.5 L637.7 748.5 L641.7 742.6 L645.7 736.6 L649.6 729.6 L653.6 722.7 L657.6 716.1 L661.6 708.8 L664.6 702.8 L667.5 697.4 L670.5 694.9 L673.5 692.3 L676.5 689.9 L679.5 688.3 L682.4 685.9 L685.4 682.3 L688.4 679.5 L690.0 681.9 L691.4 688.9 L693.4 697.8 L695.4 704.8 L697.4 709.8 L700.3 712.7 L703.3 713.3 L706.3 712.1 L709.3 711.7 L712.3 711.4 L715.2 712.1 L718.2 714.1 L721.2 716.3 L724.2 719.3 L727.2 722.1 L730.2 724.7 L733.1 726.7 L736.1 728.6 L739.1 730.6 L742.1 732.6 L745.1 733.6 L749.0 733.6 L753.0 734.0 L757.0 734.6 L761.0 735.6 L765.0 735.2" stroke="#ff0000"/>
</g>
<rect x="80.8" y="659.2" width="710.4" height="184.6" rx="1.8" fill="none" stroke="#616161" stroke-width="1.7"/>
<g clip-path="url(#xc)" font-family="'Liberation Sans', sans-serif" font-size="14.3" fill="#9b9b9b"><text x="107.5" y="857.4" text-anchor="middle">0</text><text x="172.3" y="857.4" text-anchor="middle">0.002</text><text x="237.0" y="857.4" text-anchor="middle">0.004</text><text x="301.8" y="857.4" text-anchor="middle">0.006</text><text x="366.5" y="857.4" text-anchor="middle">0.008</text><text x="431.3" y="857.4" text-anchor="middle">0.01</text><text x="496.1" y="857.4" text-anchor="middle">0.012</text><text x="560.8" y="857.4" text-anchor="middle">0.014</text><text x="625.6" y="857.4" text-anchor="middle">0.016</text><text x="690.3" y="857.4" text-anchor="middle">0.018</text><text x="755.1" y="857.4" text-anchor="middle">0.02</text></g>
<g font-family="'Liberation Sans', sans-serif" font-size="14.3" fill="#9b9b9b"><text x="75.4" y="692.7" text-anchor="end">-3100</text><text x="75.4" y="736.6" text-anchor="end">-3120</text><text x="75.4" y="780.5" text-anchor="end">-3140</text><text x="75.4" y="824.4" text-anchor="end">-3160</text></g>
<text x="389.9" y="682.7" font-family="'Liberation Serif', serif" font-weight="bold" font-size="20.9" fill="#111">Profile A4</text>
<text transform="translate(27.7 756.2) rotate(-90)" text-anchor="middle" font-family="'Liberation Serif', serif" font-size="18.8" fill="#111" stroke="#111" stroke-width="0.35">DTM height (m)</text>
</g>
<g font-family="'Liberation Serif', serif" font-size="18.7" fill="#111">
<rect x="804.6" y="718.7" width="37.6" height="30.0" fill="#ff0000"/>
<text x="849.5" y="738.7">CaSSIS SRR DTM</text>
<rect x="804.6" y="748.7" width="37.6" height="32.5" fill="#ffff00"/>
<text x="849.5" y="770.9">CaSSIS DTM</text>
<rect x="804.6" y="781.2" width="37.6" height="31.5" fill="#0000ff"/>
<text x="849.5" y="803.0">HiRISE DTM</text>
<rect x="804.6" y="812.7" width="37.6" height="30.5" fill="#00ff00"/>
<text x="849.5" y="833.6">CTX DTM</text>
</g>
<g>
<defs>
<clipPath id="ic"><rect x="805.2" y="14.3" width="186.0" height="185.9"/></clipPath>
<filter id="b2" x="-30%" y="-30%" width="160%" height="160%"><feGaussianBlur stdDeviation="2"/></filter>
<filter id="b3" x="-30%" y="-30%" width="160%" height="160%"><feGaussianBlur stdDeviation="3.2"/></filter>
<filter id="b6" x="-50%" y="-50%" width="200%" height="200%"><feGaussianBlur stdDeviation="7"/></filter>
<filter id="b10" x="-50%" y="-50%" width="200%" height="200%"><feGaussianBlur stdDeviation="11"/></filter>
<filter id="b1" x="-30%" y="-30%" width="160%" height="160%"><feGaussianBlur stdDeviation="0.9"/></filter>
<radialGradient id="cr" gradientUnits="userSpaceOnUse" cx="0" cy="0" r="1" fx="-0.05" fy="0.10" gradientTransform="translate(898.5 105.8) scale(60.5 67.0)">
<stop offset="0.000" stop-color="#2c78b2" stop-opacity="1"/>
<stop offset="0.220" stop-color="#2f8db4" stop-opacity="1"/>
<stop offset="0.380" stop-color="#3aa8ac" stop-opacity="1"/>
<stop offset="0.520" stop-color="#5cc29c" stop-opacity="1"/>
<stop offset="0.640" stop-color="#82d592" stop-opacity="1"/>
<stop offset="0.750" stop-color="#a6e092" stop-opacity="1"/>
<stop offset="0.840" stop-color="#cdec98" stop-opacity="1"/>
<stop offset="0.900" stop-color="#f2f6a2" stop-opacity="1"/>
<stop offset="0.940" stop-color="#fdea96" stop-opacity="1"/>
<stop offset="0.975" stop-color="#fccc7c" stop-opacity="0.8"/>
<stop offset="1.000" stop-color="#fbb862" stop-opacity="0"/>
</radialGradient>
<filter id="hs" x="0" y="0" width="100%" height="100%"><feTurbulence type="fractalNoise" baseFrequency="0.16 0.24" numOctaves="3" seed="11" result="n"/><feDiffuseLighting in="n" surfaceScale="2.6" diffuseConstant="0.6" lighting-color="#ffffff" result="l"><feDistantLight azimuth="225" elevation="52"/></feDiffuseLighting><feColorMatrix in="l" type="matrix" values="1 0 0 0 0  1 0 0 0 0  1 0 0 0 0  0 0 0 1 0"/></filter>
</defs>
<g clip-path="url(#ic)">
<rect x="805.2" y="14.3" width="186.0" height="185.9" fill="#fcc378"/>
<g filter="url(#b10)">
<ellipse cx="905" cy="16" rx="85" ry="20" fill="#fdf4ae" opacity="1"/>
<ellipse cx="970" cy="48" rx="32" ry="40" fill="#fdec9e" opacity="1"/>
<ellipse cx="822" cy="48" rx="24" ry="36" fill="#fde096" opacity="0.9"/>
<ellipse cx="830" cy="178" rx="30" ry="22" fill="#fcc878" opacity="0.8"/>
<ellipse cx="905" cy="192" rx="60" ry="12" fill="#fdcf80" opacity="0.8"/>
<ellipse cx="975" cy="175" rx="24" ry="26" fill="#fdc878" opacity="0.7"/>
</g>
<ellipse cx="901.5" cy="104.5" rx="73" ry="71" fill="none" stroke="#f99a48" stroke-width="14" opacity="0.7" filter="url(#b6)"/>
<path d="M839.6 139.2 A71.5 69.5 0 0 1 891.5 35.7" fill="none" stroke="#f5672f" stroke-width="6.0" stroke-linecap="round" opacity="0.80" filter="url(#b3)"/>
<path d="M832.0 122.4 A72.0 69.0 0 0 1 832.0 86.6" fill="none" stroke="#f2451f" stroke-width="4.0" stroke-linecap="round" opacity="0.70" filter="url(#b3)"/>
<path d="M960.9 64.9 A72.5 69.0 0 0 1 950.0 155.8" fill="none" stroke="#f5672f" stroke-width="7.0" stroke-linecap="round" opacity="0.80" filter="url(#b3)"/>
<path d="M971.8 87.6 A72.5 70.0 0 0 1 961.6 143.6" fill="none" stroke="#f02a1a" stroke-width="4.6" stroke-linecap="round" opacity="0.90" filter="url(#b2)"/>
<path d="M889.3 171.5 A70.0 68.0 0 0 1 840.9 138.5" fill="none" stroke="#f5672f" stroke-width="4.0" stroke-linecap="round" opacity="0.50" filter="url(#b3)"/>
<ellipse cx="842.5" cy="147.5" rx="8" ry="6.5" fill="#f03a20" opacity="0.9" filter="url(#b3)"/>
<path d="M891.9 36.2 A69.0 69.0 0 0 1 958.0 64.9" fill="none" stroke="#fbb86a" stroke-width="5.0" stroke-linecap="round" opacity="0.70" filter="url(#b3)"/>
<radialGradient id="cr" gradientUnits="userSpaceOnUse" cx="0" cy="0" r="1" fx="-0.05" fy="0.10" gradientTransform="translate(898.5 105.8) scale(60.5 67.0)">
<stop offset="0.000" stop-color="#2c78b2" stop-opacity="1"/>
<stop offset="0.220" stop-color="#2f8db4" stop-opacity="1"/>
<stop offset="0.380" stop-color="#3aa8ac" stop-opacity="1"/>
<stop offset="0.520" stop-color="#5cc29c" stop-opacity="1"/>
<stop offset="0.640" stop-color="#82d592" stop-opacity="1"/>
<stop offset="0.750" stop-color="#a6e092" stop-opacity="1"/>
<stop offset="0.840" stop-color="#cdec98" stop-opacity="1"/>
<stop offset="0.900" stop-color="#f2f6a2" stop-opacity="1"/>
<stop offset="0.940" stop-color="#fdea96" stop-opacity="1"/>
<stop offset="0.975" stop-color="#fccc7c" stop-opacity="0.8"/>
<stop offset="1.000" stop-color="#fbb862" stop-opacity="0"/>
</radialGradient>
<filter id="hs" x="0" y="0" width="100%" height="100%"><feTurbulence type="fractalNoise" baseFrequency="0.16 0.24" numOctaves="3" seed="11" result="n"/><feDiffuseLighting in="n" surfaceScale="2.6" diffuseConstant="0.6" lighting-color="#ffffff" result="l"><feDistantLight azimuth="225" elevation="52"/></feDiffuseLighting><feColorMatrix in="l" type="matrix" values="1 0 0 0 0  1 0 0 0 0  1 0 0 0 0  0 0 0 1 0"/></filter>
</defs>
<g clip-path="url(#ic)">
<rect x="805.2" y="14.3" width="186.0" height="185.9" fill="#fcc378"/>
<g filter="url(#b10)">
<ellipse cx="905" cy="16" rx="85" ry="20" fill="#fdf4ae" opacity="1"/>
<ellipse cx="970" cy="48" rx="32" ry="40" fill="#fdec9e" opacity="1"/>
<ellipse cx="822" cy="48" rx="24" ry="36" fill="#fde096" opacity="0.9"/>
<ellipse cx="830" cy="178" rx="30" ry="22" fill="#fcc878" opacity="0.8"/>
<ellipse cx="905" cy="192" rx="60" ry="12" fill="#fdcf80" opacity="0.8"/>
<ellipse cx="975" cy="175" rx="24" ry="26" fill="#fdc878" opacity="0.7"/>
</g>
<ellipse cx="901.5" cy="104.5" rx="73" ry="71" fill="none" stroke="#f99a48" stroke-width="14" opacity="0.7" filter="url(#b6)"/>
<path d="M840.9 139.5 A70.0 70.0 0 0 1 919.6 36.9" fill="none" stroke="#f5672f" stroke-width="6.0" stroke-linecap="round" opacity="0.85" filter="url(#b3)"/>
<path d="M836.4 83.3 A68.5 68.5 0 0 1 892.0 36.7" fill="none" stroke="#f0281a" stroke-width="3.6" stroke-linecap="round" opacity="0.95" filter="url(#b2)"/>
<path d="M956.7 58.2 A72.0 72.0 0 0 1 920.1 174.0" fill="none" stroke="#f5672f" stroke-width="8.0" stroke-linecap="round" opacity="0.85" filter="url(#b3)"/>
<path d="M969.5 82.4 A71.5 71.5 0 0 1 959.3 146.5" fill="none" stroke="#f02a1a" stroke-width="5.0" stroke-linecap="round" opacity="0.90" filter="url(#b2)"/>
<path d="M948.2 151.2 A66.0 66.0 0 0 1 884.4 168.3" fill="none" stroke="#f0401e" stroke-width="2.6" stroke-linecap="round" opacity="0.85" filter="url(#b2)"/>
<path d="M877.2 171.2 A71.0 71.0 0 0 1 834.8 128.8" fill="none" stroke="#f4602c" stroke-width="6.0" stroke-linecap="round" opacity="0.70" filter="url(#b3)"/>
<ellipse cx="846" cy="150" rx="9" ry="7" fill="#f03a20" opacity="0.9" filter="url(#b3)"/>
<path d="M919.1 38.8 A68.0 68.0 0 0 1 953.6 60.8" fill="none" stroke="#f9a24e" stroke-width="6.0" stroke-linecap="round" opacity="0.80" filter="url(#b3)"/>
<ellipse cx="898.5" cy="105.8" rx="60.5" ry="67.0" fill="url(#cr)"/>
<path d="M836.6 85.9 A67.5 67.5 0 0 1 887.5 38.5" fill="none" stroke="#f0281a" stroke-width="3.4" stroke-linecap="round" opacity="0.95" filter="url(#b2)"/>
<path d="M950.8 152.1 A68.5 68.5 0 0 1 889.6 172.0" fill="none" stroke="#f0401e" stroke-width="2.4" stroke-linecap="round" opacity="0.90" filter="url(#b1)"/>
<g filter="url(#b1)" fill="none" stroke-linecap="round">
<path d="M885.7 84.0 q6.4 -3.8 12.8 -3.0" stroke="#1f5f9e" stroke-width="1.3" opacity="0.55"/>
<path d="M885.7 85.6 q6.4 -3.5 12.8 -3.0" stroke="#a8ecd0" stroke-width="1.1" opacity="0.6"/>
<path d="M875.9 101.3 q9.5 -5.1 19.0 -3.0" stroke="#1f5f9e" stroke-width="1.3" opacity="0.55"/>
<path d="M875.9 102.9 q9.5 -3.5 19.0 -3.0" stroke="#a8ecd0" stroke-width="1.1" opacity="0.6"/>
<path d="M916.4 90.9 q7.2 -4.1 14.4 -3.0" stroke="#1f5f9e" stroke-width="1.3" opacity="0.55"/>
<path d="M916.4 92.5 q7.2 -3.5 14.4 -3.0" stroke="#a8ecd0" stroke-width="1.1" opacity="0.6"/>
<path d="M882.0 84.2 q5.3 -5.4 10.6 -3.0" stroke="#1f5f9e" stroke-width="1.3" opacity="0.55"/>
<path d="M882.0 85.8 q5.3 -3.5 10.6 -3.0" stroke="#a8ecd0" stroke-width="1.1" opacity="0.6"/>
<path d="M920.1 124.8 q8.8 -3.9 17.6 -3.0" stroke="#1f5f9e" stroke-width="1.3" opacity="0.55"/>
<path d="M920.1 126.4 q8.8 -3.5 17.6 -3.0" stroke="#a8ecd0" stroke-width="1.1" opacity="0.6"/>
<path d="M890.0 114.4 q8.4 -5.2 16.8 -3.0" stroke="#1f5f9e" stroke-width="1.3" opacity="0.55"/>
<path d="M890.0 116.0 q8.4 -3.5 16.8 -3.0" stroke="#a8ecd0" stroke-width="1.1" opacity="0.6"/>
<path d="M907.1 117.0 q7.0 -3.9 14.1 -3.0" stroke="#1f5f9e" stroke-width="1.3" opacity="0.55"/>
<path d="M907.1 118.6 q7.0 -3.5 14.1 -3.0" stroke="#a8ecd0" stroke-width="1.1" opacity="0.6"/>
<path d="M899.5 83.2 q9.6 -5.2 19.2 -3.0" stroke="#1f5f9e" stroke-width="1.3" opacity="0.55"/>
<path d="M899.5 84.8 q9.6 -3.5 19.2 -3.0" stroke="#a8ecd0" stroke-width="1.1" opacity="0.6"/>
<path d="M903.8 95.4 q9.5 -4.6 18.9 -3.0" stroke="#1f5f9e" stroke-width="1.3" opacity="0.55"/>
<path d="M903.8 97.0 q9.5 -3.5 18.9 -3.0" stroke="#a8ecd0" stroke-width="1.1" opacity="0.6"/>
<path d="M923.2 127.2 q7.1 -4.3 14.1 -3.0" stroke="#1f5f9e" stroke-width="1.3" opacity="0.55"/>
<path d="M923.2 128.8 q7.1 -3.5 14.1 -3.0" stroke="#a8ecd0" stroke-width="1.1" opacity="0.6"/>
<path d="M906.7 103.0 q5.0 -4.1 9.9 -3.0" stroke="#1f5f9e" stroke-width="1.3" opacity="0.55"/>
<path d="M906.7 104.6 q5.0 -3.5 9.9 -3.0" stroke="#a8ecd0" stroke-width="1.1" opacity="0.6"/>
<path d="M874.7 114.3 q5.7 -4.6 11.4 -3.0" stroke="#1f5f9e" stroke-width="1.3" opacity="0.55"/>
<path d="M874.7 115.9 q5.7 -3.5 11.4 -3.0" stroke="#a8ecd0" stroke-width="1.1" opacity="0.6"/>
<path d="M899.3 97.9 q10.0 -3.9 20.0 -3.0" stroke="#1f5f9e" stroke-width="1.3" opacity="0.55"/>
<path d="M899.3 99.5 q10.0 -3.5 20.0 -3.0" stroke="#a8ecd0" stroke-width="1.1" opacity="0.6"/>
<path d="M895.9 89.8 q7.8 -4.1 15.6 -3.0" stroke="#1f5f9e" stroke-width="1.3" opacity="0.55"/>
<path d="M895.9 91.4 q7.8 -3.5 15.6 -3.0" stroke="#a8ecd0" stroke-width="1.1" opacity="0.6"/>
<path d="M892.6 121.3 q5.9 -4.6 11.8 -3.0" stroke="#1f5f9e" stroke-width="1.3" opacity="0.55"/>
<path d="M892.6 122.9 q5.9 -3.5 11.8 -3.0" stroke="#a8ecd0" stroke-width="1.1" opacity="0.6"/>
<path d="M875.6 91.3 q8.6 -4.7 17.2 -3.0" stroke="#1f5f9e" stroke-width="1.3" opacity="0.55"/>
<path d="M875.6 92.9 q8.6 -3.5 17.2 -3.0" stroke="#a8ecd0" stroke-width="1.1" opacity="0.6"/>
<path d="M885.8 97.2 q5.1 -4.4 10.1 -3.0" stroke="#1f5f9e" stroke-width="1.3" opacity="0.55"/>
<path d="M885.8 98.8 q5.1 -3.5 10.1 -3.0" stroke="#a8ecd0" stroke-width="1.1" opacity="0.6"/>
<path d="M874.5 118.4 q9.4 -5.4 18.8 -3.0" stroke="#1f5f9e" stroke-width="1.3" opacity="0.55"/>
<path d="M874.5 120.0 q9.4 -3.5 18.8 -3.0" stroke="#a8ecd0" stroke-width="1.1" opacity="0.6"/>
<path d="M914.6 133.7 q4.1 -4.1 8.2 -3.0" stroke="#1f5f9e" stroke-width="1.3" opacity="0.55"/>
<path d="M914.6 135.3 q4.1 -3.5 8.2 -3.0" stroke="#a8ecd0" stroke-width="1.1" opacity="0.6"/>
<path d="M928.0 123.0 q6.5 -5.4 12.9 -3.0" stroke="#1f5f9e" stroke-width="1.3" opacity="0.55"/>
<path d="M928.0 124.6 q6.5 -3.5 12.9 -3.0" stroke="#a8ecd0" stroke-width="1.1" opacity="0.6"/>
<path d="M908.0 125.4 q5.8 -3.9 11.5 -3.0" stroke="#1f5f9e" stroke-width="1.3" opacity="0.55"/>
<path d="M908.0 127.0 q5.8 -3.5 11.5 -3.0" stroke="#a8ecd0" stroke-width="1.1" opacity="0.6"/>
<path d="M897.8 85.9 q6.3 -5.4 12.6 -3.0" stroke="#1f5f9e" stroke-width="1.3" opacity="0.55"/>
<path d="M897.8 87.5 q6.3 -3.5 12.6 -3.0" stroke="#a8ecd0" stroke-width="1.1" opacity="0.6"/>
<path d="M891.2 78.5 q4.3 -3.8 8.5 -3.0" stroke="#1f5f9e" stroke-width="1.3" opacity="0.55"/>
<path d="M891.2 80.1 q4.3 -3.5 8.5 -3.0" stroke="#a8ecd0" stroke-width="1.1" opacity="0.6"/>
</g>
<rect x="805.2" y="14.3" width="186.0" height="185.9" filter="url(#hs)" opacity="0.45" style="mix-blend-mode:overlay"/>
</g>
<g stroke="#111" stroke-width="1.6" stroke-linecap="butt">
<line x1="877.0" y1="20.2" x2="877.0" y2="188.6"/>
<line x1="929.8" y1="20.2" x2="929.8" y2="188.6"/>
<line x1="819.2" y1="73.6" x2="980.4" y2="73.6"/>
<line x1="819.2" y1="129.0" x2="980.4" y2="129.0"/>
</g>
<g font-family="'Liberation Sans', sans-serif" font-size="12.4" fill="#1a1a1a" stroke="#1a1a1a" stroke-width="0.3">
<text x="853.6" y="37.3">A1</text>
<text x="909.6" y="37.3">A2</text>
<text x="827.8" y="86.2">A3</text>
<text x="827.8" y="141.8">A4</text>
</g>
<path d="M944.4 188.8 L947.8 197 L944.4 194.6 L941 197 Z" fill="#f4f4f4" stroke="#8a8a8a" stroke-width="0.6"/>
<rect x="952.4" y="193.1" width="30" height="2.7" fill="#fafafa" stroke="#777" stroke-width="0.3"/>
<rect x="952.4" y="193.1" width="14.9" height="2.7" fill="#111"/>
<g font-family="'Liberation Sans', sans-serif" font-size="3.4" fill="#9a8a70" text-anchor="middle"><text x="952.6" y="190.6">0</text><text x="967.4" y="190.6">100</text><text x="984" y="190.6">200 m</text></g>
</g>
</g>
</svg>
</body></html>
